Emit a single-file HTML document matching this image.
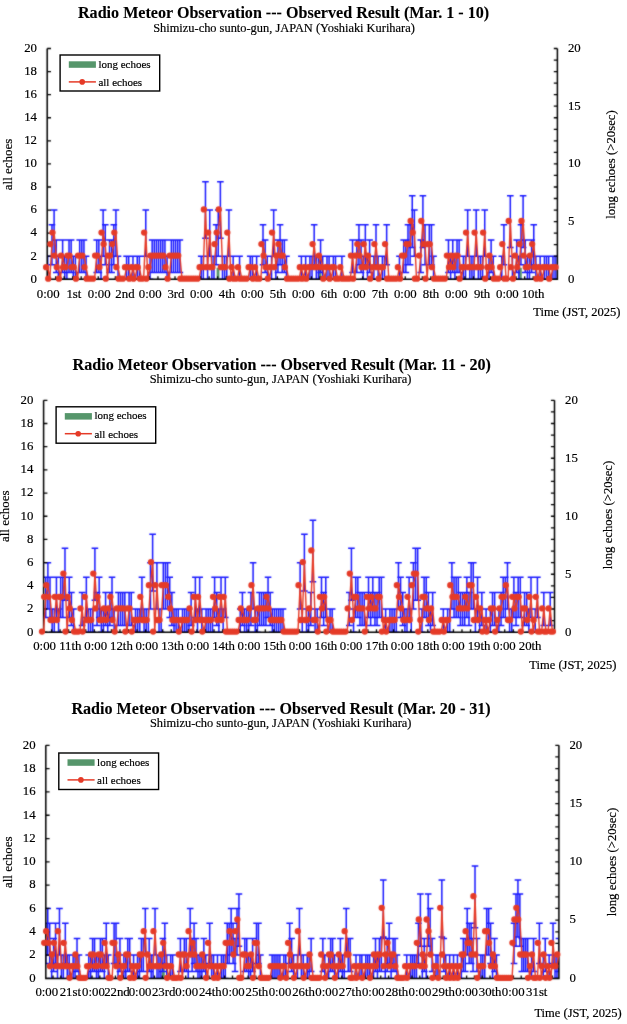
<!DOCTYPE html>
<html><head><meta charset="utf-8"><title>Radio Meteor Observation - March 2025</title>
<style>
html,body{margin:0;padding:0;background:#fff;}
svg{display:block;}
text{font-family:"Liberation Serif", "Times New Roman", serif;fill:#000;stroke:#000;stroke-width:0.18px;}
.ttl{stroke-width:0.1px;}
.ttl{font-size:16.1px;font-weight:bold;}
.sub{font-size:12.4px;}
.tk{font-size:12.8px;}
.tm{font-size:12.5px;}
.ar{font-size:12.75px;}
.ax{font-size:13px;}
.lg{font-size:11px;}
</style></head>
<body>
<svg width="627" height="1024" viewBox="0 0 627 1024">
<defs><filter id="sb" filterUnits="userSpaceOnUse" x="0" y="0" width="627" height="1024" color-interpolation-filters="sRGB"><feConvolveMatrix order="3" kernelMatrix="1 2 1 2 16 2 1 2 1" divisor="28" edgeMode="none"/></filter></defs>
<rect width="627" height="1024" fill="#fff"/>
<text x="283.6" y="17.6" class="ttl" text-anchor="middle">Radio Meteor Observation --- Observed Result (Mar. 1 - 10)</text>
<text x="284" y="31.7" class="sub" text-anchor="middle">Shimizu-cho sunto-gun, JAPAN (Yoshiaki Kurihara)</text>
<g filter="url(#sb)">
<rect x="216.6" y="267.76" width="2.8" height="11.54" fill="#56966B"/>
<rect x="318.6" y="267.76" width="2.8" height="11.54" fill="#56966B"/>
<rect x="519" y="267.76" width="2.8" height="11.54" fill="#56966B"/>
<clipPath id="cpc1"><rect x="47.2" y="43.5" width="510.2" height="235.8"/></clipPath>
<path d="M47.7 256.22V279.3M44.4 256.22h6.6M44.4 279.3h6.6M51.96 224.69V264.67M48.66 224.69h6.6M48.66 264.67h6.6M54.1 210.06V256.22M50.8 210.06h6.6M50.8 256.22h6.6M56.23 239.9V272.54M52.93 239.9h6.6M52.93 272.54h6.6M58.36 256.22V279.3M55.06 256.22h6.6M55.06 279.3h6.6M62.62 239.9V272.54M59.32 239.9h6.6M59.32 272.54h6.6M64.75 256.22V279.3M61.45 256.22h6.6M61.45 279.3h6.6M66.89 256.22V279.3M63.59 256.22h6.6M63.59 279.3h6.6M69.02 239.9V272.54M65.72 239.9h6.6M65.72 272.54h6.6M71.15 239.9V272.54M67.85 239.9h6.6M67.85 272.54h6.6M73.28 256.22V279.3M69.98 256.22h6.6M69.98 279.3h6.6M75.41 256.22V279.3M72.11 256.22h6.6M72.11 279.3h6.6M79.68 239.9V272.54M76.38 239.9h6.6M76.38 272.54h6.6M81.81 239.9V272.54M78.51 239.9h6.6M78.51 272.54h6.6M83.94 239.9V272.54M80.64 239.9h6.6M80.64 272.54h6.6M86.07 256.22V279.3M82.77 256.22h6.6M82.77 279.3h6.6M96.73 239.9V272.54M93.43 239.9h6.6M93.43 272.54h6.6M98.86 239.9V272.54M95.56 239.9h6.6M95.56 272.54h6.6M101 256.22V279.3M97.7 256.22h6.6M97.7 279.3h6.6M103.13 210.06V256.22M99.83 210.06h6.6M99.83 256.22h6.6M105.26 224.69V264.67M101.96 224.69h6.6M101.96 264.67h6.6M109.52 239.9V272.54M106.22 239.9h6.6M106.22 272.54h6.6M111.65 239.9V272.54M108.35 239.9h6.6M108.35 272.54h6.6M113.79 224.69V264.67M110.49 224.69h6.6M110.49 264.67h6.6M115.92 210.06V256.22M112.62 210.06h6.6M112.62 256.22h6.6M118.05 256.22V279.3M114.75 256.22h6.6M114.75 279.3h6.6M126.58 256.22V279.3M123.28 256.22h6.6M123.28 279.3h6.6M128.71 256.22V279.3M125.41 256.22h6.6M125.41 279.3h6.6M132.97 256.22V279.3M129.67 256.22h6.6M129.67 279.3h6.6M137.24 256.22V279.3M133.94 256.22h6.6M133.94 279.3h6.6M139.37 256.22V279.3M136.07 256.22h6.6M136.07 279.3h6.6M145.76 210.06V256.22M142.46 210.06h6.6M142.46 256.22h6.6M150.03 256.22V279.3M146.73 256.22h6.6M146.73 279.3h6.6M152.16 239.9V272.54M148.86 239.9h6.6M148.86 272.54h6.6M154.29 239.9V272.54M150.99 239.9h6.6M150.99 272.54h6.6M156.42 239.9V272.54M153.12 239.9h6.6M153.12 272.54h6.6M158.55 239.9V272.54M155.25 239.9h6.6M155.25 272.54h6.6M160.69 239.9V272.54M157.39 239.9h6.6M157.39 272.54h6.6M162.82 239.9V272.54M159.52 239.9h6.6M159.52 272.54h6.6M164.95 239.9V272.54M161.65 239.9h6.6M161.65 272.54h6.6M167.08 256.22V279.3M163.78 256.22h6.6M163.78 279.3h6.6M171.35 239.9V272.54M168.05 239.9h6.6M168.05 272.54h6.6M173.48 239.9V272.54M170.18 239.9h6.6M170.18 272.54h6.6M175.61 239.9V272.54M172.31 239.9h6.6M172.31 272.54h6.6M177.74 239.9V272.54M174.44 239.9h6.6M174.44 272.54h6.6M179.87 239.9V272.54M176.57 239.9h6.6M176.57 272.54h6.6M201.19 256.22V279.3M197.89 256.22h6.6M197.89 279.3h6.6M203.32 256.22V279.3M200.02 256.22h6.6M200.02 279.3h6.6M205.46 181.79V238.33M202.16 181.79h6.6M202.16 238.33h6.6M207.59 256.22V279.3M204.29 256.22h6.6M204.29 279.3h6.6M209.72 210.06V256.22M206.42 210.06h6.6M206.42 256.22h6.6M211.85 256.22V279.3M208.55 256.22h6.6M208.55 279.3h6.6M213.98 256.22V279.3M210.68 256.22h6.6M210.68 279.3h6.6M216.11 224.69V264.67M212.81 224.69h6.6M212.81 264.67h6.6M218.25 210.06V256.22M214.95 210.06h6.6M214.95 256.22h6.6M220.38 181.79V238.33M217.08 181.79h6.6M217.08 238.33h6.6M222.51 256.22V279.3M219.21 256.22h6.6M219.21 279.3h6.6M224.64 256.22V279.3M221.34 256.22h6.6M221.34 279.3h6.6M226.77 256.22V279.3M223.47 256.22h6.6M223.47 279.3h6.6M228.91 210.06V256.22M225.61 210.06h6.6M225.61 256.22h6.6M233.17 256.22V279.3M229.87 256.22h6.6M229.87 279.3h6.6M239.56 256.22V279.3M236.26 256.22h6.6M236.26 279.3h6.6M250.22 256.22V279.3M246.92 256.22h6.6M246.92 279.3h6.6M252.36 256.22V279.3M249.06 256.22h6.6M249.06 279.3h6.6M256.62 256.22V279.3M253.32 256.22h6.6M253.32 279.3h6.6M263.01 224.69V264.67M259.71 224.69h6.6M259.71 264.67h6.6M265.15 239.9V272.54M261.85 239.9h6.6M261.85 272.54h6.6M267.28 256.22V279.3M263.98 256.22h6.6M263.98 279.3h6.6M271.54 256.22V279.3M268.24 256.22h6.6M268.24 279.3h6.6M273.67 210.06V256.22M270.37 210.06h6.6M270.37 256.22h6.6M275.81 256.22V279.3M272.51 256.22h6.6M272.51 279.3h6.6M277.94 239.9V272.54M274.64 239.9h6.6M274.64 272.54h6.6M280.07 224.69V264.67M276.77 224.69h6.6M276.77 264.67h6.6M282.2 239.9V272.54M278.9 239.9h6.6M278.9 272.54h6.6M284.33 239.9V272.54M281.03 239.9h6.6M281.03 272.54h6.6M286.46 256.22V279.3M283.16 256.22h6.6M283.16 279.3h6.6M301.39 256.22V279.3M298.09 256.22h6.6M298.09 279.3h6.6M305.65 256.22V279.3M302.35 256.22h6.6M302.35 279.3h6.6M309.91 256.22V279.3M306.61 256.22h6.6M306.61 279.3h6.6M312.05 256.22V279.3M308.75 256.22h6.6M308.75 279.3h6.6M314.18 224.69V264.67M310.88 224.69h6.6M310.88 264.67h6.6M316.31 256.22V279.3M313.01 256.22h6.6M313.01 279.3h6.6M318.44 256.22V279.3M315.14 256.22h6.6M315.14 279.3h6.6M320.57 239.9V272.54M317.27 239.9h6.6M317.27 272.54h6.6M322.71 256.22V279.3M319.41 256.22h6.6M319.41 279.3h6.6M326.97 256.22V279.3M323.67 256.22h6.6M323.67 279.3h6.6M329.1 256.22V279.3M325.8 256.22h6.6M325.8 279.3h6.6M333.36 256.22V279.3M330.06 256.22h6.6M330.06 279.3h6.6M335.5 256.22V279.3M332.2 256.22h6.6M332.2 279.3h6.6M341.89 256.22V279.3M338.59 256.22h6.6M338.59 279.3h6.6M352.55 239.9V272.54M349.25 239.9h6.6M349.25 272.54h6.6M356.81 239.9V272.54M353.51 239.9h6.6M353.51 272.54h6.6M358.95 224.69V264.67M355.65 224.69h6.6M355.65 264.67h6.6M361.08 239.9V272.54M357.78 239.9h6.6M357.78 272.54h6.6M363.21 256.22V279.3M359.91 256.22h6.6M359.91 279.3h6.6M365.34 224.69V264.67M362.04 224.69h6.6M362.04 264.67h6.6M367.47 256.22V279.3M364.17 256.22h6.6M364.17 279.3h6.6M369.61 239.9V272.54M366.31 239.9h6.6M366.31 272.54h6.6M373.87 256.22V279.3M370.57 256.22h6.6M370.57 279.3h6.6M376 224.69V264.67M372.7 224.69h6.6M372.7 264.67h6.6M378.13 256.22V279.3M374.83 256.22h6.6M374.83 279.3h6.6M382.4 256.22V279.3M379.1 256.22h6.6M379.1 279.3h6.6M384.53 256.22V279.3M381.23 256.22h6.6M381.23 279.3h6.6M386.66 224.69V264.67M383.36 224.69h6.6M383.36 264.67h6.6M399.45 256.22V279.3M396.15 256.22h6.6M396.15 279.3h6.6M403.71 239.9V272.54M400.41 239.9h6.6M400.41 272.54h6.6M405.85 239.9V272.54M402.55 239.9h6.6M402.55 272.54h6.6M407.98 224.69V264.67M404.68 224.69h6.6M404.68 264.67h6.6M410.11 224.69V264.67M406.81 224.69h6.6M406.81 264.67h6.6M412.24 195.8V247.4M408.94 195.8h6.6M408.94 247.4h6.6M414.37 210.06V256.22M411.07 210.06h6.6M411.07 256.22h6.6M420.77 239.9V272.54M417.47 239.9h6.6M417.47 272.54h6.6M422.9 195.8V247.4M419.6 195.8h6.6M419.6 247.4h6.6M425.03 224.69V264.67M421.73 224.69h6.6M421.73 264.67h6.6M429.3 224.69V264.67M426 224.69h6.6M426 264.67h6.6M431.43 224.69V264.67M428.13 224.69h6.6M428.13 264.67h6.6M433.56 256.22V279.3M430.26 256.22h6.6M430.26 279.3h6.6M448.48 239.9V272.54M445.18 239.9h6.6M445.18 272.54h6.6M450.61 256.22V279.3M447.31 256.22h6.6M447.31 279.3h6.6M452.75 239.9V272.54M449.45 239.9h6.6M449.45 272.54h6.6M454.88 256.22V279.3M451.58 256.22h6.6M451.58 279.3h6.6M457.01 239.9V272.54M453.71 239.9h6.6M453.71 272.54h6.6M459.14 239.9V272.54M455.84 239.9h6.6M455.84 272.54h6.6M463.41 256.22V279.3M460.11 256.22h6.6M460.11 279.3h6.6M465.54 256.22V279.3M462.24 256.22h6.6M462.24 279.3h6.6M467.67 210.06V256.22M464.37 210.06h6.6M464.37 256.22h6.6M469.8 256.22V279.3M466.5 256.22h6.6M466.5 279.3h6.6M471.93 256.22V279.3M468.63 256.22h6.6M468.63 279.3h6.6M474.06 256.22V279.3M470.76 256.22h6.6M470.76 279.3h6.6M476.2 210.06V256.22M472.9 210.06h6.6M472.9 256.22h6.6M478.33 256.22V279.3M475.03 256.22h6.6M475.03 279.3h6.6M480.46 256.22V279.3M477.16 256.22h6.6M477.16 279.3h6.6M482.59 256.22V279.3M479.29 256.22h6.6M479.29 279.3h6.6M484.72 210.06V256.22M481.42 210.06h6.6M481.42 256.22h6.6M488.99 256.22V279.3M485.69 256.22h6.6M485.69 279.3h6.6M491.12 239.9V272.54M487.82 239.9h6.6M487.82 272.54h6.6M493.25 256.22V279.3M489.95 256.22h6.6M489.95 279.3h6.6M501.78 256.22V279.3M498.48 256.22h6.6M498.48 279.3h6.6M503.91 224.69V264.67M500.61 224.69h6.6M500.61 264.67h6.6M510.31 195.8V247.4M507.01 195.8h6.6M507.01 247.4h6.6M512.44 256.22V279.3M509.14 256.22h6.6M509.14 279.3h6.6M516.7 239.9V272.54M513.4 239.9h6.6M513.4 272.54h6.6M518.83 256.22V279.3M515.53 256.22h6.6M515.53 279.3h6.6M520.97 224.69V264.67M517.67 224.69h6.6M517.67 264.67h6.6M523.1 195.8V247.4M519.8 195.8h6.6M519.8 247.4h6.6M525.23 239.9V272.54M521.93 239.9h6.6M521.93 272.54h6.6M527.36 256.22V279.3M524.06 256.22h6.6M524.06 279.3h6.6M529.49 256.22V279.3M526.19 256.22h6.6M526.19 279.3h6.6M531.62 239.9V272.54M528.32 239.9h6.6M528.32 272.54h6.6M533.76 224.69V264.67M530.46 224.69h6.6M530.46 264.67h6.6M535.89 256.22V279.3M532.59 256.22h6.6M532.59 279.3h6.6M540.15 256.22V279.3M536.85 256.22h6.6M536.85 279.3h6.6M544.42 256.22V279.3M541.12 256.22h6.6M541.12 279.3h6.6M546.55 256.22V279.3M543.25 256.22h6.6M543.25 279.3h6.6M548.68 256.22V279.3M545.38 256.22h6.6M545.38 279.3h6.6M552.94 256.22V279.3M549.64 256.22h6.6M549.64 279.3h6.6M555.07 256.22V279.3M551.77 256.22h6.6M551.77 279.3h6.6M557.21 256.22V279.3M553.91 256.22h6.6M553.91 279.3h6.6" stroke="#1818FF" stroke-width="1.5" fill="none" clip-path="url(#cpc1)"/>
<path d="M47.2 48.5V279.3H557.4V48.5" stroke="#000" stroke-width="1.5" fill="none"/>
<path d="M47.2 279.3h3.8M47.2 256.22h3.8M47.2 233.14h3.8M47.2 210.06h3.8M47.2 186.98h3.8M47.2 163.9h3.8M47.2 140.82h3.8M47.2 117.74h3.8M47.2 94.66h3.8M47.2 71.58h3.8M47.2 48.5h3.8M557.4 279.3h-3.6M557.4 267.76h-3.6M557.4 256.22h-3.6M557.4 244.68h-3.6M557.4 233.14h-3.6M557.4 221.6h-3.6M557.4 210.06h-3.6M557.4 198.52h-3.6M557.4 186.98h-3.6M557.4 175.44h-3.6M557.4 163.9h-3.6M557.4 152.36h-3.6M557.4 140.82h-3.6M557.4 129.28h-3.6M557.4 117.74h-3.6M557.4 106.2h-3.6M557.4 94.66h-3.6M557.4 83.12h-3.6M557.4 71.58h-3.6M557.4 60.04h-3.6M557.4 48.5h-3.6M55.63 279.3v-3M64.15 279.3v-3M72.68 279.3v-3M81.21 279.3v-3M89.74 279.3v-3M98.26 279.3v-3M106.79 279.3v-3M115.32 279.3v-3M123.85 279.3v-3M132.37 279.3v-3M140.9 279.3v-3M149.43 279.3v-3M157.95 279.3v-3M166.48 279.3v-3M175.01 279.3v-3M183.54 279.3v-3M192.06 279.3v-3M200.59 279.3v-3M209.12 279.3v-3M217.65 279.3v-3M226.17 279.3v-3M234.7 279.3v-3M243.23 279.3v-3M251.76 279.3v-3M260.28 279.3v-3M268.81 279.3v-3M277.34 279.3v-3M285.86 279.3v-3M294.39 279.3v-3M302.92 279.3v-3M311.45 279.3v-3M319.97 279.3v-3M328.5 279.3v-3M337.03 279.3v-3M345.56 279.3v-3M354.08 279.3v-3M362.61 279.3v-3M371.14 279.3v-3M379.66 279.3v-3M388.19 279.3v-3M396.72 279.3v-3M405.25 279.3v-3M413.77 279.3v-3M422.3 279.3v-3M430.83 279.3v-3M439.36 279.3v-3M447.88 279.3v-3M456.41 279.3v-3M464.94 279.3v-3M473.46 279.3v-3M481.99 279.3v-3M490.52 279.3v-3M499.05 279.3v-3M507.57 279.3v-3M516.1 279.3v-3M524.63 279.3v-3M533.16 279.3v-3M541.68 279.3v-3M550.21 279.3v-3" stroke="#000" stroke-width="1.3" fill="none"/>
<polyline points="47.7,267.16 49.83,278.7 51.96,244.08 54.1,232.54 56.23,255.62 58.36,267.16 60.49,278.7 62.62,255.62 64.75,267.16 66.89,267.16 69.02,255.62 71.15,255.62 73.28,267.16 75.41,267.16 77.55,278.7 79.68,255.62 81.81,255.62 83.94,255.62 86.07,267.16 88.2,278.7 90.34,278.7 92.47,278.7 94.6,278.7 96.73,255.62 98.86,255.62 101,267.16 103.13,232.54 105.26,244.08 107.39,278.7 109.52,255.62 111.65,255.62 113.79,244.08 115.92,232.54 118.05,267.16 120.18,278.7 122.31,278.7 124.45,278.7 126.58,267.16 128.71,267.16 130.84,278.7 132.97,267.16 135.1,278.7 137.24,267.16 139.37,267.16 141.5,278.7 143.63,278.7 145.76,232.54 147.9,278.7 150.03,267.16 152.16,255.62 154.29,255.62 156.42,255.62 158.55,255.62 160.69,255.62 162.82,255.62 164.95,255.62 167.08,267.16 169.21,278.7 171.35,255.62 173.48,255.62 175.61,255.62 177.74,255.62 179.87,255.62 182,278.7 184.14,278.7 186.27,278.7 188.4,278.7 190.53,278.7 192.66,278.7 194.8,278.7 196.93,278.7 199.06,278.7 201.19,267.16 203.32,267.16 205.46,209.46 207.59,267.16 209.72,232.54 211.85,267.16 213.98,267.16 216.11,244.08 218.25,232.54 220.38,209.46 222.51,267.16 224.64,267.16 226.77,267.16 228.91,232.54 231.04,278.7 233.17,267.16 235.3,278.7 237.43,278.7 239.56,267.16 241.7,278.7 243.83,278.7 245.96,278.7 248.09,278.7 250.22,267.16 252.36,267.16 254.49,278.7 256.62,267.16 258.75,278.7 260.88,278.7 263.01,244.08 265.15,255.62 267.28,267.16 269.41,278.7 271.54,267.16 273.67,232.54 275.81,267.16 277.94,255.62 280.07,244.08 282.2,255.62 284.33,255.62 286.46,267.16 288.6,278.7 290.73,278.7 292.86,278.7 294.99,278.7 297.12,278.7 299.26,278.7 301.39,267.16 303.52,278.7 305.65,267.16 307.78,278.7 309.91,267.16 312.05,267.16 314.18,244.08 316.31,267.16 318.44,267.16 320.57,255.62 322.71,267.16 324.84,278.7 326.97,267.16 329.1,267.16 331.23,278.7 333.36,267.16 335.5,267.16 337.63,278.7 339.76,278.7 341.89,267.16 344.02,278.7 346.16,278.7 348.29,278.7 350.42,278.7 352.55,255.62 354.68,278.7 356.81,255.62 358.95,244.08 361.08,255.62 363.21,267.16 365.34,244.08 367.47,267.16 369.61,255.62 371.74,278.7 373.87,267.16 376,244.08 378.13,267.16 380.26,278.7 382.4,267.16 384.53,267.16 386.66,244.08 388.79,278.7 390.92,278.7 393.06,278.7 395.19,278.7 397.32,278.7 399.45,267.16 401.58,278.7 403.71,255.62 405.85,255.62 407.98,244.08 410.11,244.08 412.24,221 414.37,232.54 416.51,278.7 418.64,278.7 420.77,255.62 422.9,221 425.03,244.08 427.16,278.7 429.3,244.08 431.43,244.08 433.56,267.16 435.69,278.7 437.82,278.7 439.96,278.7 442.09,278.7 444.22,278.7 446.35,278.7 448.48,255.62 450.61,267.16 452.75,255.62 454.88,267.16 457.01,255.62 459.14,255.62 461.27,278.7 463.41,267.16 465.54,267.16 467.67,232.54 469.8,267.16 471.93,267.16 474.06,267.16 476.2,232.54 478.33,267.16 480.46,267.16 482.59,267.16 484.72,232.54 486.86,278.7 488.99,267.16 491.12,255.62 493.25,267.16 495.38,278.7 497.52,278.7 499.65,278.7 501.78,267.16 503.91,244.08 506.04,278.7 508.17,278.7 510.31,221 512.44,267.16 514.57,278.7 516.7,255.62 518.83,267.16 520.97,244.08 523.1,221 525.23,255.62 527.36,267.16 529.49,267.16 531.62,255.62 533.76,244.08 535.89,267.16 538.02,278.7 540.15,267.16 542.28,278.7 544.42,267.16 546.55,267.16 548.68,267.16 550.81,278.7 552.94,267.16 555.07,267.16 557.21,267.16" stroke="#E53A27" stroke-width="1.4" fill="none" stroke-linejoin="round"/>
<path d="M46.09 267.16h0.02M48.22 278.7h0.02M50.35 244.08h0.02M52.49 232.54h0.02M54.62 255.62h0.02M56.75 267.16h0.02M58.88 278.7h0.02M61.01 255.62h0.02M63.14 267.16h0.02M65.28 267.16h0.02M67.41 255.62h0.02M69.54 255.62h0.02M71.67 267.16h0.02M73.8 267.16h0.02M75.94 278.7h0.02M78.07 255.62h0.02M80.2 255.62h0.02M82.33 255.62h0.02M84.46 267.16h0.02M86.59 278.7h0.02M88.73 278.7h0.02M90.86 278.7h0.02M92.99 278.7h0.02M95.12 255.62h0.02M97.25 255.62h0.02M99.39 267.16h0.02M101.52 232.54h0.02M103.65 244.08h0.02M105.78 278.7h0.02M107.91 255.62h0.02M110.04 255.62h0.02M112.18 244.08h0.02M114.31 232.54h0.02M116.44 267.16h0.02M118.57 278.7h0.02M120.7 278.7h0.02M122.84 278.7h0.02M124.97 267.16h0.02M127.1 267.16h0.02M129.23 278.7h0.02M131.36 267.16h0.02M133.49 278.7h0.02M135.63 267.16h0.02M137.76 267.16h0.02M139.89 278.7h0.02M142.02 278.7h0.02M144.15 232.54h0.02M146.29 278.7h0.02M148.42 267.16h0.02M150.55 255.62h0.02M152.68 255.62h0.02M154.81 255.62h0.02M156.94 255.62h0.02M159.08 255.62h0.02M161.21 255.62h0.02M163.34 255.62h0.02M165.47 267.16h0.02M167.6 278.7h0.02M169.74 255.62h0.02M171.87 255.62h0.02M174 255.62h0.02M176.13 255.62h0.02M178.26 255.62h0.02M180.39 278.7h0.02M182.53 278.7h0.02M184.66 278.7h0.02M186.79 278.7h0.02M188.92 278.7h0.02M191.05 278.7h0.02M193.19 278.7h0.02M195.32 278.7h0.02M197.45 278.7h0.02M199.58 267.16h0.02M201.71 267.16h0.02M203.85 209.46h0.02M205.98 267.16h0.02M208.11 232.54h0.02M210.24 267.16h0.02M212.37 267.16h0.02M214.5 244.08h0.02M216.64 232.54h0.02M218.77 209.46h0.02M220.9 267.16h0.02M223.03 267.16h0.02M225.16 267.16h0.02M227.3 232.54h0.02M229.43 278.7h0.02M231.56 267.16h0.02M233.69 278.7h0.02M235.82 278.7h0.02M237.95 267.16h0.02M240.09 278.7h0.02M242.22 278.7h0.02M244.35 278.7h0.02M246.48 278.7h0.02M248.61 267.16h0.02M250.75 267.16h0.02M252.88 278.7h0.02M255.01 267.16h0.02M257.14 278.7h0.02M259.27 278.7h0.02M261.4 244.08h0.02M263.54 255.62h0.02M265.67 267.16h0.02M267.8 278.7h0.02M269.93 267.16h0.02M272.06 232.54h0.02M274.2 267.16h0.02M276.33 255.62h0.02M278.46 244.08h0.02M280.59 255.62h0.02M282.72 255.62h0.02M284.85 267.16h0.02M286.99 278.7h0.02M289.12 278.7h0.02M291.25 278.7h0.02M293.38 278.7h0.02M295.51 278.7h0.02M297.65 278.7h0.02M299.78 267.16h0.02M301.91 278.7h0.02M304.04 267.16h0.02M306.17 278.7h0.02M308.3 267.16h0.02M310.44 267.16h0.02M312.57 244.08h0.02M314.7 267.16h0.02M316.83 267.16h0.02M318.96 255.62h0.02M321.1 267.16h0.02M323.23 278.7h0.02M325.36 267.16h0.02M327.49 267.16h0.02M329.62 278.7h0.02M331.75 267.16h0.02M333.89 267.16h0.02M336.02 278.7h0.02M338.15 278.7h0.02M340.28 267.16h0.02M342.41 278.7h0.02M344.55 278.7h0.02M346.68 278.7h0.02M348.81 278.7h0.02M350.94 255.62h0.02M353.07 278.7h0.02M355.2 255.62h0.02M357.34 244.08h0.02M359.47 255.62h0.02M361.6 267.16h0.02M363.73 244.08h0.02M365.86 267.16h0.02M368 255.62h0.02M370.13 278.7h0.02M372.26 267.16h0.02M374.39 244.08h0.02M376.52 267.16h0.02M378.65 278.7h0.02M380.79 267.16h0.02M382.92 267.16h0.02M385.05 244.08h0.02M387.18 278.7h0.02M389.31 278.7h0.02M391.45 278.7h0.02M393.58 278.7h0.02M395.71 278.7h0.02M397.84 267.16h0.02M399.97 278.7h0.02M402.1 255.62h0.02M404.24 255.62h0.02M406.37 244.08h0.02M408.5 244.08h0.02M410.63 221h0.02M412.76 232.54h0.02M414.9 278.7h0.02M417.03 278.7h0.02M419.16 255.62h0.02M421.29 221h0.02M423.42 244.08h0.02M425.55 278.7h0.02M427.69 244.08h0.02M429.82 244.08h0.02M431.95 267.16h0.02M434.08 278.7h0.02M436.21 278.7h0.02M438.35 278.7h0.02M440.48 278.7h0.02M442.61 278.7h0.02M444.74 278.7h0.02M446.87 255.62h0.02M449 267.16h0.02M451.14 255.62h0.02M453.27 267.16h0.02M455.4 255.62h0.02M457.53 255.62h0.02M459.66 278.7h0.02M461.8 267.16h0.02M463.93 267.16h0.02M466.06 232.54h0.02M468.19 267.16h0.02M470.32 267.16h0.02M472.45 267.16h0.02M474.59 232.54h0.02M476.72 267.16h0.02M478.85 267.16h0.02M480.98 267.16h0.02M483.11 232.54h0.02M485.25 278.7h0.02M487.38 267.16h0.02M489.51 255.62h0.02M491.64 267.16h0.02M493.77 278.7h0.02M495.91 278.7h0.02M498.04 278.7h0.02M500.17 267.16h0.02M502.3 244.08h0.02M504.43 278.7h0.02M506.56 278.7h0.02M508.7 221h0.02M510.83 267.16h0.02M512.96 278.7h0.02M515.09 255.62h0.02M517.22 267.16h0.02M519.36 244.08h0.02M521.49 221h0.02M523.62 255.62h0.02M525.75 267.16h0.02M527.88 267.16h0.02M530.01 255.62h0.02M532.15 244.08h0.02M534.28 267.16h0.02M536.41 278.7h0.02M538.54 267.16h0.02M540.67 278.7h0.02M542.81 267.16h0.02M544.94 267.16h0.02M547.07 267.16h0.02M549.2 278.7h0.02M551.33 267.16h0.02M553.46 267.16h0.02M555.6 267.16h0.02" stroke="#E53A27" stroke-width="6.3" stroke-linecap="round" fill="none"/>
</g>
<text x="37" y="282.6" class="tk" text-anchor="end">0</text>
<text x="37" y="259.52" class="tk" text-anchor="end">2</text>
<text x="37" y="236.44" class="tk" text-anchor="end">4</text>
<text x="37" y="213.36" class="tk" text-anchor="end">6</text>
<text x="37" y="190.28" class="tk" text-anchor="end">8</text>
<text x="37" y="167.2" class="tk" text-anchor="end">10</text>
<text x="37" y="144.12" class="tk" text-anchor="end">12</text>
<text x="37" y="121.04" class="tk" text-anchor="end">14</text>
<text x="37" y="97.96" class="tk" text-anchor="end">16</text>
<text x="37" y="74.88" class="tk" text-anchor="end">18</text>
<text x="37" y="51.8" class="tk" text-anchor="end">20</text>
<text x="567.9" y="282.6" class="tk">0</text>
<text x="567.9" y="224.9" class="tk">5</text>
<text x="567.9" y="167.2" class="tk">10</text>
<text x="567.9" y="109.5" class="tk">15</text>
<text x="567.9" y="51.8" class="tk">20</text>
<text x="48.2" y="297.6" class="tk" text-anchor="middle">0:00</text>
<text x="73.91" y="297.6" class="tk" text-anchor="middle">1st</text>
<text x="99.22" y="297.6" class="tk" text-anchor="middle">0:00</text>
<text x="124.93" y="297.6" class="tk" text-anchor="middle">2nd</text>
<text x="150.24" y="297.6" class="tk" text-anchor="middle">0:00</text>
<text x="175.95" y="297.6" class="tk" text-anchor="middle">3rd</text>
<text x="201.26" y="297.6" class="tk" text-anchor="middle">0:00</text>
<text x="226.97" y="297.6" class="tk" text-anchor="middle">4th</text>
<text x="252.28" y="297.6" class="tk" text-anchor="middle">0:00</text>
<text x="277.99" y="297.6" class="tk" text-anchor="middle">5th</text>
<text x="303.3" y="297.6" class="tk" text-anchor="middle">0:00</text>
<text x="329.01" y="297.6" class="tk" text-anchor="middle">6th</text>
<text x="354.32" y="297.6" class="tk" text-anchor="middle">0:00</text>
<text x="380.03" y="297.6" class="tk" text-anchor="middle">7th</text>
<text x="405.34" y="297.6" class="tk" text-anchor="middle">0:00</text>
<text x="431.05" y="297.6" class="tk" text-anchor="middle">8th</text>
<text x="456.36" y="297.6" class="tk" text-anchor="middle">0:00</text>
<text x="482.07" y="297.6" class="tk" text-anchor="middle">9th</text>
<text x="507.38" y="297.6" class="tk" text-anchor="middle">0:00</text>
<text x="533.09" y="297.6" class="tk" text-anchor="middle">10th</text>
<text transform="translate(11.9 164.4) rotate(-90)" class="ax" text-anchor="middle">all echoes</text>
<text transform="translate(614.7 164.5) rotate(-90)" class="ar" text-anchor="middle">long echoes (&gt;20sec)</text>
<text x="620.4" y="315.9" class="tm" text-anchor="end">Time (JST, 2025)</text>
<rect x="60.1" y="55" width="99.6" height="36" fill="#fff" stroke="#000" stroke-width="1.4"/>
<rect x="68.8" y="61.3" width="27.1" height="6.5" fill="#56966B"/>
<text x="98.4" y="67.6" class="lg">long echoes</text>
<path d="M68.8 81.9h27.1" stroke="#E53A27" stroke-width="1.5"/>
<circle cx="82.2" cy="81.9" r="2.8" fill="#E53A27"/>
<text x="98.4" y="85.7" class="lg">all echoes</text>
<text x="281.8" y="369.7" class="ttl" text-anchor="middle">Radio Meteor Observation --- Observed Result (Mar. 11 - 20)</text>
<text x="280.5" y="382.6" class="sub" text-anchor="middle">Shimizu-cho sunto-gun, JAPAN (Yoshiaki Kurihara)</text>
<g filter="url(#sb)">
<clipPath id="cpc2"><rect x="43.6" y="395.3" width="510.9" height="236.9"/></clipPath>
<path d="M45.74 577.33V617.5M42.44 577.33h6.6M42.44 617.5h6.6M47.88 562.63V609.01M44.58 562.63h6.6M44.58 609.01h6.6M50.01 577.33V617.5M46.71 577.33h6.6M46.71 617.5h6.6M52.15 609.01V632.2M48.85 609.01h6.6M48.85 632.2h6.6M54.29 609.01V632.2M50.99 609.01h6.6M50.99 632.2h6.6M56.43 577.33V617.5M53.13 577.33h6.6M53.13 617.5h6.6M58.56 609.01V632.2M55.26 609.01h6.6M55.26 632.2h6.6M60.7 577.33V617.5M57.4 577.33h6.6M57.4 617.5h6.6M62.84 577.33V617.5M59.54 577.33h6.6M59.54 617.5h6.6M64.98 548.3V600.15M61.68 548.3h6.6M61.68 600.15h6.6M69.25 577.33V617.5M65.95 577.33h6.6M65.95 617.5h6.6M71.39 592.61V625.41M68.09 592.61h6.6M68.09 625.41h6.6M73.53 609.01V632.2M70.23 609.01h6.6M70.23 632.2h6.6M82.08 592.61V625.41M78.78 592.61h6.6M78.78 625.41h6.6M86.35 577.33V617.5M83.05 577.33h6.6M83.05 617.5h6.6M88.49 609.01V632.2M85.19 609.01h6.6M85.19 632.2h6.6M90.63 609.01V632.2M87.33 609.01h6.6M87.33 632.2h6.6M92.77 609.01V632.2M89.47 609.01h6.6M89.47 632.2h6.6M94.9 548.3V600.15M91.6 548.3h6.6M91.6 600.15h6.6M97.04 592.61V625.41M93.74 592.61h6.6M93.74 625.41h6.6M99.18 577.33V617.5M95.88 577.33h6.6M95.88 617.5h6.6M101.32 609.01V632.2M98.02 609.01h6.6M98.02 632.2h6.6M103.45 609.01V632.2M100.15 609.01h6.6M100.15 632.2h6.6M105.59 592.61V625.41M102.29 592.61h6.6M102.29 625.41h6.6M107.73 609.01V632.2M104.43 609.01h6.6M104.43 632.2h6.6M109.87 592.61V625.41M106.57 592.61h6.6M106.57 625.41h6.6M112.01 577.33V617.5M108.71 577.33h6.6M108.71 617.5h6.6M114.14 609.01V632.2M110.84 609.01h6.6M110.84 632.2h6.6M118.42 592.61V625.41M115.12 592.61h6.6M115.12 625.41h6.6M120.56 592.61V625.41M117.26 592.61h6.6M117.26 625.41h6.6M122.69 592.61V625.41M119.39 592.61h6.6M119.39 625.41h6.6M124.83 592.61V625.41M121.53 592.61h6.6M121.53 625.41h6.6M129.11 592.61V625.41M125.81 592.61h6.6M125.81 625.41h6.6M131.24 592.61V625.41M127.94 592.61h6.6M127.94 625.41h6.6M135.52 609.01V632.2M132.22 609.01h6.6M132.22 632.2h6.6M137.66 609.01V632.2M134.36 609.01h6.6M134.36 632.2h6.6M139.79 609.01V632.2M136.49 609.01h6.6M136.49 632.2h6.6M141.93 577.33V617.5M138.63 577.33h6.6M138.63 617.5h6.6M144.07 609.01V632.2M140.77 609.01h6.6M140.77 632.2h6.6M146.21 609.01V632.2M142.91 609.01h6.6M142.91 632.2h6.6M148.35 609.01V632.2M145.05 609.01h6.6M145.05 632.2h6.6M150.48 562.63V609.01M147.18 562.63h6.6M147.18 609.01h6.6M152.62 534.23V591.03M149.32 534.23h6.6M149.32 591.03h6.6M156.9 562.63V609.01M153.6 562.63h6.6M153.6 609.01h6.6M159.03 609.01V632.2M155.73 609.01h6.6M155.73 632.2h6.6M161.17 609.01V632.2M157.87 609.01h6.6M157.87 632.2h6.6M163.31 562.63V609.01M160.01 562.63h6.6M160.01 609.01h6.6M165.45 562.63V609.01M162.15 562.63h6.6M162.15 609.01h6.6M167.58 562.63V609.01M164.28 562.63h6.6M164.28 609.01h6.6M169.72 577.33V617.5M166.42 577.33h6.6M166.42 617.5h6.6M171.86 592.61V625.41M168.56 592.61h6.6M168.56 625.41h6.6M174 609.01V632.2M170.7 609.01h6.6M170.7 632.2h6.6M176.13 609.01V632.2M172.83 609.01h6.6M172.83 632.2h6.6M178.27 609.01V632.2M174.97 609.01h6.6M174.97 632.2h6.6M182.55 609.01V632.2M179.25 609.01h6.6M179.25 632.2h6.6M184.69 609.01V632.2M181.39 609.01h6.6M181.39 632.2h6.6M186.82 609.01V632.2M183.52 609.01h6.6M183.52 632.2h6.6M188.96 609.01V632.2M185.66 609.01h6.6M185.66 632.2h6.6M191.1 592.61V625.41M187.8 592.61h6.6M187.8 625.41h6.6M195.37 577.33V617.5M192.07 577.33h6.6M192.07 617.5h6.6M197.51 609.01V632.2M194.21 609.01h6.6M194.21 632.2h6.6M199.65 577.33V617.5M196.35 577.33h6.6M196.35 617.5h6.6M201.79 609.01V632.2M198.49 609.01h6.6M198.49 632.2h6.6M206.06 609.01V632.2M202.76 609.01h6.6M202.76 632.2h6.6M208.2 609.01V632.2M204.9 609.01h6.6M204.9 632.2h6.6M210.34 609.01V632.2M207.04 609.01h6.6M207.04 632.2h6.6M212.47 609.01V632.2M209.17 609.01h6.6M209.17 632.2h6.6M214.61 577.33V617.5M211.31 577.33h6.6M211.31 617.5h6.6M216.75 592.61V625.41M213.45 592.61h6.6M213.45 625.41h6.6M218.89 609.01V632.2M215.59 609.01h6.6M215.59 632.2h6.6M221.03 577.33V617.5M217.73 577.33h6.6M217.73 617.5h6.6M223.16 609.01V632.2M219.86 609.01h6.6M219.86 632.2h6.6M225.3 577.33V617.5M222 577.33h6.6M222 617.5h6.6M240.26 609.01V632.2M236.96 609.01h6.6M236.96 632.2h6.6M242.4 592.61V625.41M239.1 592.61h6.6M239.1 625.41h6.6M244.54 609.01V632.2M241.24 609.01h6.6M241.24 632.2h6.6M246.68 609.01V632.2M243.38 609.01h6.6M243.38 632.2h6.6M248.82 609.01V632.2M245.52 609.01h6.6M245.52 632.2h6.6M250.95 592.61V625.41M247.65 592.61h6.6M247.65 625.41h6.6M253.09 562.63V609.01M249.79 562.63h6.6M249.79 609.01h6.6M255.23 609.01V632.2M251.93 609.01h6.6M251.93 632.2h6.6M257.37 609.01V632.2M254.07 609.01h6.6M254.07 632.2h6.6M259.5 592.61V625.41M256.2 592.61h6.6M256.2 625.41h6.6M261.64 592.61V625.41M258.34 592.61h6.6M258.34 625.41h6.6M263.78 592.61V625.41M260.48 592.61h6.6M260.48 625.41h6.6M265.92 592.61V625.41M262.62 592.61h6.6M262.62 625.41h6.6M268.05 577.33V617.5M264.75 577.33h6.6M264.75 617.5h6.6M270.19 592.61V625.41M266.89 592.61h6.6M266.89 625.41h6.6M272.33 609.01V632.2M269.03 609.01h6.6M269.03 632.2h6.6M274.47 609.01V632.2M271.17 609.01h6.6M271.17 632.2h6.6M276.6 609.01V632.2M273.3 609.01h6.6M273.3 632.2h6.6M278.74 609.01V632.2M275.44 609.01h6.6M275.44 632.2h6.6M280.88 609.01V632.2M277.58 609.01h6.6M277.58 632.2h6.6M283.02 609.01V632.2M279.72 609.01h6.6M279.72 632.2h6.6M300.12 562.63V609.01M296.82 562.63h6.6M296.82 609.01h6.6M302.26 609.01V632.2M298.96 609.01h6.6M298.96 632.2h6.6M304.39 534.23V591.03M301.09 534.23h6.6M301.09 591.03h6.6M306.53 609.01V632.2M303.23 609.01h6.6M303.23 632.2h6.6M308.67 609.01V632.2M305.37 609.01h6.6M305.37 632.2h6.6M310.81 592.61V625.41M307.51 592.61h6.6M307.51 625.41h6.6M312.94 520.36V581.71M309.64 520.36h6.6M309.64 581.71h6.6M315.08 609.01V632.2M311.78 609.01h6.6M311.78 632.2h6.6M317.22 609.01V632.2M313.92 609.01h6.6M313.92 632.2h6.6M321.5 577.33V617.5M318.2 577.33h6.6M318.2 617.5h6.6M323.63 592.61V625.41M320.33 592.61h6.6M320.33 625.41h6.6M325.77 577.33V617.5M322.47 577.33h6.6M322.47 617.5h6.6M330.05 609.01V632.2M326.75 609.01h6.6M326.75 632.2h6.6M332.18 609.01V632.2M328.88 609.01h6.6M328.88 632.2h6.6M349.28 592.61V625.41M345.98 592.61h6.6M345.98 625.41h6.6M351.42 548.3V600.15M348.12 548.3h6.6M348.12 600.15h6.6M353.56 609.01V632.2M350.26 609.01h6.6M350.26 632.2h6.6M355.7 577.33V617.5M352.4 577.33h6.6M352.4 617.5h6.6M357.84 577.33V617.5M354.54 577.33h6.6M354.54 617.5h6.6M359.97 592.61V625.41M356.67 592.61h6.6M356.67 625.41h6.6M362.11 592.61V625.41M358.81 592.61h6.6M358.81 625.41h6.6M364.25 592.61V625.41M360.95 592.61h6.6M360.95 625.41h6.6M368.52 577.33V617.5M365.22 577.33h6.6M365.22 617.5h6.6M370.66 592.61V625.41M367.36 592.61h6.6M367.36 625.41h6.6M372.8 577.33V617.5M369.5 577.33h6.6M369.5 617.5h6.6M374.94 592.61V625.41M371.64 592.61h6.6M371.64 625.41h6.6M377.07 592.61V625.41M373.77 592.61h6.6M373.77 625.41h6.6M379.21 577.33V617.5M375.91 577.33h6.6M375.91 617.5h6.6M381.35 577.33V617.5M378.05 577.33h6.6M378.05 617.5h6.6M385.63 609.01V632.2M382.33 609.01h6.6M382.33 632.2h6.6M389.9 609.01V632.2M386.6 609.01h6.6M386.6 632.2h6.6M392.04 609.01V632.2M388.74 609.01h6.6M388.74 632.2h6.6M394.18 609.01V632.2M390.88 609.01h6.6M390.88 632.2h6.6M396.31 609.01V632.2M393.01 609.01h6.6M393.01 632.2h6.6M398.45 562.63V609.01M395.15 562.63h6.6M395.15 609.01h6.6M400.59 577.33V617.5M397.29 577.33h6.6M397.29 617.5h6.6M402.73 592.61V625.41M399.43 592.61h6.6M399.43 625.41h6.6M404.86 609.01V632.2M401.56 609.01h6.6M401.56 632.2h6.6M407 609.01V632.2M403.7 609.01h6.6M403.7 632.2h6.6M409.14 577.33V617.5M405.84 577.33h6.6M405.84 617.5h6.6M411.28 609.01V632.2M407.98 609.01h6.6M407.98 632.2h6.6M413.41 562.63V609.01M410.11 562.63h6.6M410.11 609.01h6.6M415.55 548.3V600.15M412.25 548.3h6.6M412.25 600.15h6.6M417.69 548.3V600.15M414.39 548.3h6.6M414.39 600.15h6.6M421.97 609.01V632.2M418.67 609.01h6.6M418.67 632.2h6.6M424.1 577.33V617.5M420.8 577.33h6.6M420.8 617.5h6.6M426.24 577.33V617.5M422.94 577.33h6.6M422.94 617.5h6.6M428.38 592.61V625.41M425.08 592.61h6.6M425.08 625.41h6.6M430.52 609.01V632.2M427.22 609.01h6.6M427.22 632.2h6.6M432.65 592.61V625.41M429.35 592.61h6.6M429.35 625.41h6.6M443.34 609.01V632.2M440.04 609.01h6.6M440.04 632.2h6.6M447.62 609.01V632.2M444.32 609.01h6.6M444.32 632.2h6.6M449.75 609.01V632.2M446.45 609.01h6.6M446.45 632.2h6.6M451.89 562.63V609.01M448.59 562.63h6.6M448.59 609.01h6.6M454.03 577.33V617.5M450.73 577.33h6.6M450.73 617.5h6.6M456.17 577.33V617.5M452.87 577.33h6.6M452.87 617.5h6.6M458.31 577.33V617.5M455.01 577.33h6.6M455.01 617.5h6.6M460.44 592.61V625.41M457.14 592.61h6.6M457.14 625.41h6.6M462.58 592.61V625.41M459.28 592.61h6.6M459.28 625.41h6.6M464.72 592.61V625.41M461.42 592.61h6.6M461.42 625.41h6.6M466.86 577.33V617.5M463.56 577.33h6.6M463.56 617.5h6.6M468.99 592.61V625.41M465.69 592.61h6.6M465.69 625.41h6.6M471.13 562.63V609.01M467.83 562.63h6.6M467.83 609.01h6.6M473.27 562.63V609.01M469.97 562.63h6.6M469.97 609.01h6.6M475.41 609.01V632.2M472.11 609.01h6.6M472.11 632.2h6.6M477.54 577.33V617.5M474.24 577.33h6.6M474.24 617.5h6.6M479.68 609.01V632.2M476.38 609.01h6.6M476.38 632.2h6.6M481.82 592.61V625.41M478.52 592.61h6.6M478.52 625.41h6.6M486.09 609.01V632.2M482.79 609.01h6.6M482.79 632.2h6.6M490.37 609.01V632.2M487.07 609.01h6.6M487.07 632.2h6.6M492.51 592.61V625.41M489.21 592.61h6.6M489.21 625.41h6.6M494.65 592.61V625.41M491.35 592.61h6.6M491.35 625.41h6.6M498.92 609.01V632.2M495.62 609.01h6.6M495.62 632.2h6.6M501.06 592.61V625.41M497.76 592.61h6.6M497.76 625.41h6.6M503.2 577.33V617.5M499.9 577.33h6.6M499.9 617.5h6.6M505.33 577.33V617.5M502.03 577.33h6.6M502.03 617.5h6.6M507.47 562.63V609.01M504.17 562.63h6.6M504.17 609.01h6.6M509.61 609.01V632.2M506.31 609.01h6.6M506.31 632.2h6.6M511.75 609.01V632.2M508.45 609.01h6.6M508.45 632.2h6.6M513.88 577.33V617.5M510.58 577.33h6.6M510.58 617.5h6.6M516.02 592.61V625.41M512.72 592.61h6.6M512.72 625.41h6.6M518.16 577.33V617.5M514.86 577.33h6.6M514.86 617.5h6.6M520.3 577.33V617.5M517 577.33h6.6M517 617.5h6.6M524.57 592.61V625.41M521.27 592.61h6.6M521.27 625.41h6.6M526.71 592.61V625.41M523.41 592.61h6.6M523.41 625.41h6.6M528.85 609.01V632.2M525.55 609.01h6.6M525.55 632.2h6.6M530.99 577.33V617.5M527.69 577.33h6.6M527.69 617.5h6.6M535.26 609.01V632.2M531.96 609.01h6.6M531.96 632.2h6.6M537.4 577.33V617.5M534.1 577.33h6.6M534.1 617.5h6.6M543.81 592.61V625.41M540.51 592.61h6.6M540.51 625.41h6.6M550.22 592.61V625.41M546.92 592.61h6.6M546.92 625.41h6.6" stroke="#1818FF" stroke-width="1.5" fill="none" clip-path="url(#cpc2)"/>
<path d="M43.6 400.3V632.2H554.5V400.3" stroke="#000" stroke-width="1.5" fill="none"/>
<path d="M43.6 632.2h3.8M43.6 609.01h3.8M43.6 585.82h3.8M43.6 562.63h3.8M43.6 539.44h3.8M43.6 516.25h3.8M43.6 493.06h3.8M43.6 469.87h3.8M43.6 446.68h3.8M43.6 423.49h3.8M43.6 400.3h3.8M554.5 632.2h-3.6M554.5 620.61h-3.6M554.5 609.01h-3.6M554.5 597.42h-3.6M554.5 585.82h-3.6M554.5 574.23h-3.6M554.5 562.63h-3.6M554.5 551.04h-3.6M554.5 539.44h-3.6M554.5 527.85h-3.6M554.5 516.25h-3.6M554.5 504.66h-3.6M554.5 493.06h-3.6M554.5 481.47h-3.6M554.5 469.87h-3.6M554.5 458.27h-3.6M554.5 446.68h-3.6M554.5 435.09h-3.6M554.5 423.49h-3.6M554.5 411.89h-3.6M554.5 400.3h-3.6M51.55 632.2v-3M60.1 632.2v-3M68.65 632.2v-3M77.2 632.2v-3M85.75 632.2v-3M94.3 632.2v-3M102.85 632.2v-3M111.41 632.2v-3M119.96 632.2v-3M128.51 632.2v-3M137.06 632.2v-3M145.61 632.2v-3M154.16 632.2v-3M162.71 632.2v-3M171.26 632.2v-3M179.81 632.2v-3M188.36 632.2v-3M196.91 632.2v-3M205.46 632.2v-3M214.01 632.2v-3M222.56 632.2v-3M231.11 632.2v-3M239.66 632.2v-3M248.22 632.2v-3M256.77 632.2v-3M265.32 632.2v-3M273.87 632.2v-3M282.42 632.2v-3M290.97 632.2v-3M299.52 632.2v-3M308.07 632.2v-3M316.62 632.2v-3M325.17 632.2v-3M333.72 632.2v-3M342.27 632.2v-3M350.82 632.2v-3M359.37 632.2v-3M367.92 632.2v-3M376.47 632.2v-3M385.03 632.2v-3M393.58 632.2v-3M402.13 632.2v-3M410.68 632.2v-3M419.23 632.2v-3M427.78 632.2v-3M436.33 632.2v-3M444.88 632.2v-3M453.43 632.2v-3M461.98 632.2v-3M470.53 632.2v-3M479.08 632.2v-3M487.63 632.2v-3M496.18 632.2v-3M504.73 632.2v-3M513.28 632.2v-3M521.84 632.2v-3M530.39 632.2v-3M538.94 632.2v-3M547.49 632.2v-3" stroke="#000" stroke-width="1.3" fill="none"/>
<polyline points="43.6,631.6 45.74,596.82 47.88,585.22 50.01,596.82 52.15,620 54.29,620 56.43,596.82 58.56,620 60.7,596.82 62.84,596.82 64.98,573.62 67.11,631.6 69.25,596.82 71.39,608.41 73.53,620 75.66,631.6 77.8,631.6 79.94,631.6 82.08,608.41 84.22,631.6 86.35,596.82 88.49,620 90.63,620 92.77,620 94.9,573.62 97.04,608.41 99.18,596.82 101.32,620 103.45,620 105.59,608.41 107.73,620 109.87,608.41 112.01,596.82 114.14,620 116.28,631.6 118.42,608.41 120.56,608.41 122.69,608.41 124.83,608.41 126.97,631.6 129.11,608.41 131.24,608.41 133.38,631.6 135.52,620 137.66,620 139.79,620 141.93,596.82 144.07,620 146.21,620 148.35,620 150.48,585.22 152.62,562.03 154.76,631.6 156.9,585.22 159.03,620 161.17,620 163.31,585.22 165.45,585.22 167.58,585.22 169.72,596.82 171.86,608.41 174,620 176.13,620 178.27,620 180.41,631.6 182.55,620 184.69,620 186.82,620 188.96,620 191.1,608.41 193.24,631.6 195.37,596.82 197.51,620 199.65,596.82 201.79,620 203.92,631.6 206.06,620 208.2,620 210.34,620 212.47,620 214.61,596.82 216.75,608.41 218.89,620 221.03,596.82 223.16,620 225.3,596.82 227.44,631.6 229.58,631.6 231.71,631.6 233.85,631.6 235.99,631.6 238.13,631.6 240.26,620 242.4,608.41 244.54,620 246.68,620 248.82,620 250.95,608.41 253.09,585.22 255.23,620 257.37,620 259.5,608.41 261.64,608.41 263.78,608.41 265.92,608.41 268.05,596.82 270.19,608.41 272.33,620 274.47,620 276.6,620 278.74,620 280.88,620 283.02,620 285.16,631.6 287.29,631.6 289.43,631.6 291.57,631.6 293.71,631.6 295.84,631.6 297.98,631.6 300.12,585.22 302.26,620 304.39,562.03 306.53,620 308.67,620 310.81,608.41 312.94,550.44 315.08,620 317.22,620 319.36,631.6 321.5,596.82 323.63,608.41 325.77,596.82 327.91,631.6 330.05,620 332.18,620 334.32,631.6 336.46,631.6 338.6,631.6 340.73,631.6 342.87,631.6 345.01,631.6 347.15,631.6 349.28,608.41 351.42,573.62 353.56,620 355.7,596.82 357.84,596.82 359.97,608.41 362.11,608.41 364.25,608.41 366.39,631.6 368.52,596.82 370.66,608.41 372.8,596.82 374.94,608.41 377.07,608.41 379.21,596.82 381.35,596.82 383.49,631.6 385.63,620 387.76,631.6 389.9,620 392.04,620 394.18,620 396.31,620 398.45,585.22 400.59,596.82 402.73,608.41 404.86,620 407,620 409.14,596.82 411.28,620 413.41,585.22 415.55,573.62 417.69,573.62 419.83,631.6 421.97,620 424.1,596.82 426.24,596.82 428.38,608.41 430.52,620 432.65,608.41 434.79,631.6 436.93,631.6 439.07,631.6 441.2,631.6 443.34,620 445.48,631.6 447.62,620 449.75,620 451.89,585.22 454.03,596.82 456.17,596.82 458.31,596.82 460.44,608.41 462.58,608.41 464.72,608.41 466.86,596.82 468.99,608.41 471.13,585.22 473.27,585.22 475.41,620 477.54,596.82 479.68,620 481.82,608.41 483.96,631.6 486.09,620 488.23,631.6 490.37,620 492.51,608.41 494.65,608.41 496.78,631.6 498.92,620 501.06,608.41 503.2,596.82 505.33,596.82 507.47,585.22 509.61,620 511.75,620 513.88,596.82 516.02,608.41 518.16,596.82 520.3,596.82 522.44,631.6 524.57,608.41 526.71,608.41 528.85,620 530.99,596.82 533.12,631.6 535.26,620 537.4,596.82 539.54,631.6 541.67,631.6 543.81,608.41 545.95,631.6 548.09,631.6 550.22,608.41 552.36,631.6 554.5,631.6" stroke="#E53A27" stroke-width="1.4" fill="none" stroke-linejoin="round"/>
<path d="M41.99 631.6h0.02M44.13 596.82h0.02M46.27 585.22h0.02M48.4 596.82h0.02M50.54 620h0.02M52.68 620h0.02M54.82 596.82h0.02M56.95 620h0.02M59.09 596.82h0.02M61.23 596.82h0.02M63.37 573.62h0.02M65.5 631.6h0.02M67.64 596.82h0.02M69.78 608.41h0.02M71.92 620h0.02M74.05 631.6h0.02M76.19 631.6h0.02M78.33 631.6h0.02M80.47 608.41h0.02M82.61 631.6h0.02M84.74 596.82h0.02M86.88 620h0.02M89.02 620h0.02M91.16 620h0.02M93.29 573.62h0.02M95.43 608.41h0.02M97.57 596.82h0.02M99.71 620h0.02M101.84 620h0.02M103.98 608.41h0.02M106.12 620h0.02M108.26 608.41h0.02M110.4 596.82h0.02M112.53 620h0.02M114.67 631.6h0.02M116.81 608.41h0.02M118.95 608.41h0.02M121.08 608.41h0.02M123.22 608.41h0.02M125.36 631.6h0.02M127.5 608.41h0.02M129.63 608.41h0.02M131.77 631.6h0.02M133.91 620h0.02M136.05 620h0.02M138.18 620h0.02M140.32 596.82h0.02M142.46 620h0.02M144.6 620h0.02M146.74 620h0.02M148.87 585.22h0.02M151.01 562.03h0.02M153.15 631.6h0.02M155.29 585.22h0.02M157.42 620h0.02M159.56 620h0.02M161.7 585.22h0.02M163.84 585.22h0.02M165.97 585.22h0.02M168.11 596.82h0.02M170.25 608.41h0.02M172.39 620h0.02M174.52 620h0.02M176.66 620h0.02M178.8 631.6h0.02M180.94 620h0.02M183.08 620h0.02M185.21 620h0.02M187.35 620h0.02M189.49 608.41h0.02M191.63 631.6h0.02M193.76 596.82h0.02M195.9 620h0.02M198.04 596.82h0.02M200.18 620h0.02M202.31 631.6h0.02M204.45 620h0.02M206.59 620h0.02M208.73 620h0.02M210.86 620h0.02M213 596.82h0.02M215.14 608.41h0.02M217.28 620h0.02M219.42 596.82h0.02M221.55 620h0.02M223.69 596.82h0.02M225.83 631.6h0.02M227.97 631.6h0.02M230.1 631.6h0.02M232.24 631.6h0.02M234.38 631.6h0.02M236.52 631.6h0.02M238.65 620h0.02M240.79 608.41h0.02M242.93 620h0.02M245.07 620h0.02M247.21 620h0.02M249.34 608.41h0.02M251.48 585.22h0.02M253.62 620h0.02M255.76 620h0.02M257.89 608.41h0.02M260.03 608.41h0.02M262.17 608.41h0.02M264.31 608.41h0.02M266.44 596.82h0.02M268.58 608.41h0.02M270.72 620h0.02M272.86 620h0.02M274.99 620h0.02M277.13 620h0.02M279.27 620h0.02M281.41 620h0.02M283.55 631.6h0.02M285.68 631.6h0.02M287.82 631.6h0.02M289.96 631.6h0.02M292.1 631.6h0.02M294.23 631.6h0.02M296.37 631.6h0.02M298.51 585.22h0.02M300.65 620h0.02M302.78 562.03h0.02M304.92 620h0.02M307.06 620h0.02M309.2 608.41h0.02M311.33 550.44h0.02M313.47 620h0.02M315.61 620h0.02M317.75 631.6h0.02M319.89 596.82h0.02M322.02 608.41h0.02M324.16 596.82h0.02M326.3 631.6h0.02M328.44 620h0.02M330.57 620h0.02M332.71 631.6h0.02M334.85 631.6h0.02M336.99 631.6h0.02M339.12 631.6h0.02M341.26 631.6h0.02M343.4 631.6h0.02M345.54 631.6h0.02M347.67 608.41h0.02M349.81 573.62h0.02M351.95 620h0.02M354.09 596.82h0.02M356.23 596.82h0.02M358.36 608.41h0.02M360.5 608.41h0.02M362.64 608.41h0.02M364.78 631.6h0.02M366.91 596.82h0.02M369.05 608.41h0.02M371.19 596.82h0.02M373.33 608.41h0.02M375.46 608.41h0.02M377.6 596.82h0.02M379.74 596.82h0.02M381.88 631.6h0.02M384.02 620h0.02M386.15 631.6h0.02M388.29 620h0.02M390.43 620h0.02M392.57 620h0.02M394.7 620h0.02M396.84 585.22h0.02M398.98 596.82h0.02M401.12 608.41h0.02M403.25 620h0.02M405.39 620h0.02M407.53 596.82h0.02M409.67 620h0.02M411.8 585.22h0.02M413.94 573.62h0.02M416.08 573.62h0.02M418.22 631.6h0.02M420.36 620h0.02M422.49 596.82h0.02M424.63 596.82h0.02M426.77 608.41h0.02M428.91 620h0.02M431.04 608.41h0.02M433.18 631.6h0.02M435.32 631.6h0.02M437.46 631.6h0.02M439.59 631.6h0.02M441.73 620h0.02M443.87 631.6h0.02M446.01 620h0.02M448.14 620h0.02M450.28 585.22h0.02M452.42 596.82h0.02M454.56 596.82h0.02M456.7 596.82h0.02M458.83 608.41h0.02M460.97 608.41h0.02M463.11 608.41h0.02M465.25 596.82h0.02M467.38 608.41h0.02M469.52 585.22h0.02M471.66 585.22h0.02M473.8 620h0.02M475.93 596.82h0.02M478.07 620h0.02M480.21 608.41h0.02M482.35 631.6h0.02M484.48 620h0.02M486.62 631.6h0.02M488.76 620h0.02M490.9 608.41h0.02M493.04 608.41h0.02M495.17 631.6h0.02M497.31 620h0.02M499.45 608.41h0.02M501.59 596.82h0.02M503.72 596.82h0.02M505.86 585.22h0.02M508 620h0.02M510.14 620h0.02M512.27 596.82h0.02M514.41 608.41h0.02M516.55 596.82h0.02M518.69 596.82h0.02M520.83 631.6h0.02M522.96 608.41h0.02M525.1 608.41h0.02M527.24 620h0.02M529.38 596.82h0.02M531.51 631.6h0.02M533.65 620h0.02M535.79 596.82h0.02M537.93 631.6h0.02M540.06 631.6h0.02M542.2 608.41h0.02M544.34 631.6h0.02M546.48 631.6h0.02M548.61 608.41h0.02M550.75 631.6h0.02M552.89 631.6h0.02" stroke="#E53A27" stroke-width="6.3" stroke-linecap="round" fill="none"/>
</g>
<text x="33.4" y="635.5" class="tk" text-anchor="end">0</text>
<text x="33.4" y="612.31" class="tk" text-anchor="end">2</text>
<text x="33.4" y="589.12" class="tk" text-anchor="end">4</text>
<text x="33.4" y="565.93" class="tk" text-anchor="end">6</text>
<text x="33.4" y="542.74" class="tk" text-anchor="end">8</text>
<text x="33.4" y="519.55" class="tk" text-anchor="end">10</text>
<text x="33.4" y="496.36" class="tk" text-anchor="end">12</text>
<text x="33.4" y="473.17" class="tk" text-anchor="end">14</text>
<text x="33.4" y="449.98" class="tk" text-anchor="end">16</text>
<text x="33.4" y="426.79" class="tk" text-anchor="end">18</text>
<text x="33.4" y="403.6" class="tk" text-anchor="end">20</text>
<text x="565" y="635.5" class="tk">0</text>
<text x="565" y="577.52" class="tk">5</text>
<text x="565" y="519.55" class="tk">10</text>
<text x="565" y="461.57" class="tk">15</text>
<text x="565" y="403.6" class="tk">20</text>
<text x="44.6" y="649.6" class="tk" text-anchor="middle">0:00</text>
<text x="70.34" y="649.6" class="tk" text-anchor="middle">11th</text>
<text x="95.69" y="649.6" class="tk" text-anchor="middle">0:00</text>
<text x="121.43" y="649.6" class="tk" text-anchor="middle">12th</text>
<text x="146.78" y="649.6" class="tk" text-anchor="middle">0:00</text>
<text x="172.52" y="649.6" class="tk" text-anchor="middle">13th</text>
<text x="197.87" y="649.6" class="tk" text-anchor="middle">0:00</text>
<text x="223.61" y="649.6" class="tk" text-anchor="middle">14th</text>
<text x="248.96" y="649.6" class="tk" text-anchor="middle">0:00</text>
<text x="274.7" y="649.6" class="tk" text-anchor="middle">15th</text>
<text x="300.05" y="649.6" class="tk" text-anchor="middle">0:00</text>
<text x="325.8" y="649.6" class="tk" text-anchor="middle">16th</text>
<text x="351.14" y="649.6" class="tk" text-anchor="middle">0:00</text>
<text x="376.88" y="649.6" class="tk" text-anchor="middle">17th</text>
<text x="402.23" y="649.6" class="tk" text-anchor="middle">0:00</text>
<text x="427.97" y="649.6" class="tk" text-anchor="middle">18th</text>
<text x="453.32" y="649.6" class="tk" text-anchor="middle">0:00</text>
<text x="479.06" y="649.6" class="tk" text-anchor="middle">19th</text>
<text x="504.41" y="649.6" class="tk" text-anchor="middle">0:00</text>
<text x="530.15" y="649.6" class="tk" text-anchor="middle">20th</text>
<text transform="translate(9.3 516.3) rotate(-90)" class="ax" text-anchor="middle">all echoes</text>
<text transform="translate(612.2 515) rotate(-90)" class="ar" text-anchor="middle">long echoes (&gt;20sec)</text>
<text x="616.5" y="669.3" class="tm" text-anchor="end">Time (JST, 2025)</text>
<rect x="56.1" y="406.8" width="99.6" height="36.4" fill="#fff" stroke="#000" stroke-width="1.4"/>
<rect x="64.8" y="413.1" width="27.1" height="6.5" fill="#56966B"/>
<text x="94.4" y="419.4" class="lg">long echoes</text>
<path d="M64.8 433.7h27.1" stroke="#E53A27" stroke-width="1.5"/>
<circle cx="78.2" cy="433.7" r="2.8" fill="#E53A27"/>
<text x="94.4" y="437.5" class="lg">all echoes</text>
<text x="281.1" y="714.1" class="ttl" text-anchor="middle">Radio Meteor Observation --- Observed Result (Mar. 20 - 31)</text>
<text x="280.7" y="727" class="sub" text-anchor="middle">Shimizu-cho sunto-gun, JAPAN (Yoshiaki Kurihara)</text>
<g filter="url(#sb)">
<rect x="162" y="966.75" width="2.8" height="11.66" fill="#56966B"/>
<clipPath id="cpc3"><rect x="45.8" y="740.3" width="513.1" height="238.1"/></clipPath>
<path d="M45.8 923.25V963.62M42.5 923.25h6.6M42.5 963.62h6.6M47.75 908.47V955.09M44.45 908.47h6.6M44.45 955.09h6.6M49.7 923.25V963.62M46.4 923.25h6.6M46.4 963.62h6.6M51.65 955.09V978.4M48.35 955.09h6.6M48.35 978.4h6.6M53.6 938.61V971.57M50.3 938.61h6.6M50.3 971.57h6.6M55.55 923.25V963.62M52.25 923.25h6.6M52.25 963.62h6.6M57.51 955.09V978.4M54.21 955.09h6.6M54.21 978.4h6.6M59.46 908.47V955.09M56.16 908.47h6.6M56.16 955.09h6.6M61.41 955.09V978.4M58.11 955.09h6.6M58.11 978.4h6.6M63.36 955.09V978.4M60.06 955.09h6.6M60.06 978.4h6.6M65.31 923.25V963.62M62.01 923.25h6.6M62.01 963.62h6.6M67.26 955.09V978.4M63.96 955.09h6.6M63.96 978.4h6.6M69.21 955.09V978.4M65.91 955.09h6.6M65.91 978.4h6.6M73.11 955.09V978.4M69.81 955.09h6.6M69.81 978.4h6.6M75.06 955.09V978.4M71.76 955.09h6.6M71.76 978.4h6.6M77.02 938.61V971.57M73.72 938.61h6.6M73.72 971.57h6.6M78.97 955.09V978.4M75.67 955.09h6.6M75.67 978.4h6.6M88.72 955.09V978.4M85.42 955.09h6.6M85.42 978.4h6.6M90.67 955.09V978.4M87.37 955.09h6.6M87.37 978.4h6.6M92.62 938.61V971.57M89.32 938.61h6.6M89.32 971.57h6.6M94.57 938.61V971.57M91.27 938.61h6.6M91.27 971.57h6.6M96.52 955.09V978.4M93.22 955.09h6.6M93.22 978.4h6.6M98.48 955.09V978.4M95.18 955.09h6.6M95.18 978.4h6.6M100.43 938.61V971.57M97.13 938.61h6.6M97.13 971.57h6.6M102.38 938.61V971.57M99.08 938.61h6.6M99.08 971.57h6.6M104.33 955.09V978.4M101.03 955.09h6.6M101.03 978.4h6.6M106.28 923.25V963.62M102.98 923.25h6.6M102.98 963.62h6.6M108.23 955.09V978.4M104.93 955.09h6.6M104.93 978.4h6.6M114.08 923.25V963.62M110.78 923.25h6.6M110.78 963.62h6.6M116.03 923.25V963.62M112.73 923.25h6.6M112.73 963.62h6.6M117.99 955.09V978.4M114.69 955.09h6.6M114.69 978.4h6.6M119.94 938.61V971.57M116.64 938.61h6.6M116.64 971.57h6.6M123.84 955.09V978.4M120.54 955.09h6.6M120.54 978.4h6.6M125.79 955.09V978.4M122.49 955.09h6.6M122.49 978.4h6.6M127.74 938.61V971.57M124.44 938.61h6.6M124.44 971.57h6.6M129.69 938.61V971.57M126.39 938.61h6.6M126.39 971.57h6.6M133.59 955.09V978.4M130.29 955.09h6.6M130.29 978.4h6.6M137.49 955.09V978.4M134.19 955.09h6.6M134.19 978.4h6.6M139.45 955.09V978.4M136.15 955.09h6.6M136.15 978.4h6.6M141.4 938.61V971.57M138.1 938.61h6.6M138.1 971.57h6.6M143.35 938.61V971.57M140.05 938.61h6.6M140.05 971.57h6.6M145.3 908.47V955.09M142 908.47h6.6M142 955.09h6.6M149.2 938.61V971.57M145.9 938.61h6.6M145.9 971.57h6.6M151.15 955.09V978.4M147.85 955.09h6.6M147.85 978.4h6.6M153.1 955.09V978.4M149.8 955.09h6.6M149.8 978.4h6.6M155.05 908.47V955.09M151.75 908.47h6.6M151.75 955.09h6.6M157 955.09V978.4M153.7 955.09h6.6M153.7 978.4h6.6M158.96 955.09V978.4M155.66 955.09h6.6M155.66 978.4h6.6M160.91 955.09V978.4M157.61 955.09h6.6M157.61 978.4h6.6M162.86 938.61V971.57M159.56 938.61h6.6M159.56 971.57h6.6M164.81 923.25V963.62M161.51 923.25h6.6M161.51 963.62h6.6M166.76 955.09V978.4M163.46 955.09h6.6M163.46 978.4h6.6M170.66 955.09V978.4M167.36 955.09h6.6M167.36 978.4h6.6M172.61 955.09V978.4M169.31 955.09h6.6M169.31 978.4h6.6M180.42 938.61V971.57M177.12 938.61h6.6M177.12 971.57h6.6M184.32 938.61V971.57M181.02 938.61h6.6M181.02 971.57h6.6M186.27 938.61V971.57M182.97 938.61h6.6M182.97 971.57h6.6M188.22 955.09V978.4M184.92 955.09h6.6M184.92 978.4h6.6M190.17 908.47V955.09M186.87 908.47h6.6M186.87 955.09h6.6M192.12 938.61V971.57M188.82 938.61h6.6M188.82 971.57h6.6M194.07 923.25V963.62M190.77 923.25h6.6M190.77 963.62h6.6M196.02 938.61V971.57M192.72 938.61h6.6M192.72 971.57h6.6M197.97 955.09V978.4M194.67 955.09h6.6M194.67 978.4h6.6M199.93 955.09V978.4M196.63 955.09h6.6M196.63 978.4h6.6M201.88 955.09V978.4M198.58 955.09h6.6M198.58 978.4h6.6M203.83 938.61V971.57M200.53 938.61h6.6M200.53 971.57h6.6M205.78 955.09V978.4M202.48 955.09h6.6M202.48 978.4h6.6M209.68 923.25V963.62M206.38 923.25h6.6M206.38 963.62h6.6M211.63 955.09V978.4M208.33 955.09h6.6M208.33 978.4h6.6M213.58 955.09V978.4M210.28 955.09h6.6M210.28 978.4h6.6M217.48 955.09V978.4M214.18 955.09h6.6M214.18 978.4h6.6M221.39 955.09V978.4M218.09 955.09h6.6M218.09 978.4h6.6M223.34 955.09V978.4M220.04 955.09h6.6M220.04 978.4h6.6M225.29 955.09V978.4M221.99 955.09h6.6M221.99 978.4h6.6M227.24 923.25V963.62M223.94 923.25h6.6M223.94 963.62h6.6M229.19 923.25V963.62M225.89 923.25h6.6M225.89 963.62h6.6M231.14 908.47V955.09M227.84 908.47h6.6M227.84 955.09h6.6M233.09 923.25V963.62M229.79 923.25h6.6M229.79 963.62h6.6M235.04 938.61V971.57M231.74 938.61h6.6M231.74 971.57h6.6M236.99 908.47V955.09M233.69 908.47h6.6M233.69 955.09h6.6M238.94 894.06V946.19M235.64 894.06h6.6M235.64 946.19h6.6M244.8 938.61V971.57M241.5 938.61h6.6M241.5 971.57h6.6M246.75 938.61V971.57M243.45 938.61h6.6M243.45 971.57h6.6M248.7 955.09V978.4M245.4 955.09h6.6M245.4 978.4h6.6M250.65 955.09V978.4M247.35 955.09h6.6M247.35 978.4h6.6M252.6 938.61V971.57M249.3 938.61h6.6M249.3 971.57h6.6M256.5 923.25V963.62M253.2 923.25h6.6M253.2 963.62h6.6M258.45 923.25V963.62M255.15 923.25h6.6M255.15 963.62h6.6M260.4 955.09V978.4M257.1 955.09h6.6M257.1 978.4h6.6M272.11 955.09V978.4M268.81 955.09h6.6M268.81 978.4h6.6M274.06 955.09V978.4M270.76 955.09h6.6M270.76 978.4h6.6M276.01 955.09V978.4M272.71 955.09h6.6M272.71 978.4h6.6M277.96 955.09V978.4M274.66 955.09h6.6M274.66 978.4h6.6M279.91 955.09V978.4M276.61 955.09h6.6M276.61 978.4h6.6M283.82 955.09V978.4M280.52 955.09h6.6M280.52 978.4h6.6M285.77 955.09V978.4M282.47 955.09h6.6M282.47 978.4h6.6M289.67 923.25V963.62M286.37 923.25h6.6M286.37 963.62h6.6M291.62 938.61V971.57M288.32 938.61h6.6M288.32 971.57h6.6M293.57 955.09V978.4M290.27 955.09h6.6M290.27 978.4h6.6M297.47 955.09V978.4M294.17 955.09h6.6M294.17 978.4h6.6M299.42 908.47V955.09M296.12 908.47h6.6M296.12 955.09h6.6M301.37 955.09V978.4M298.07 955.09h6.6M298.07 978.4h6.6M303.33 955.09V978.4M300.03 955.09h6.6M300.03 978.4h6.6M307.23 955.09V978.4M303.93 955.09h6.6M303.93 978.4h6.6M309.18 955.09V978.4M305.88 955.09h6.6M305.88 978.4h6.6M311.13 938.61V971.57M307.83 938.61h6.6M307.83 971.57h6.6M322.83 938.61V971.57M319.53 938.61h6.6M319.53 971.57h6.6M324.79 955.09V978.4M321.49 955.09h6.6M321.49 978.4h6.6M328.69 955.09V978.4M325.39 955.09h6.6M325.39 978.4h6.6M330.64 938.61V971.57M327.34 938.61h6.6M327.34 971.57h6.6M332.59 938.61V971.57M329.29 938.61h6.6M329.29 971.57h6.6M334.54 955.09V978.4M331.24 955.09h6.6M331.24 978.4h6.6M338.44 955.09V978.4M335.14 955.09h6.6M335.14 978.4h6.6M340.39 938.61V971.57M337.09 938.61h6.6M337.09 971.57h6.6M342.34 955.09V978.4M339.04 955.09h6.6M339.04 978.4h6.6M344.3 955.09V978.4M341 955.09h6.6M341 978.4h6.6M346.25 908.47V955.09M342.95 908.47h6.6M342.95 955.09h6.6M348.2 938.61V971.57M344.9 938.61h6.6M344.9 971.57h6.6M350.15 938.61V971.57M346.85 938.61h6.6M346.85 971.57h6.6M356 955.09V978.4M352.7 955.09h6.6M352.7 978.4h6.6M359.9 955.09V978.4M356.6 955.09h6.6M356.6 978.4h6.6M361.85 955.09V978.4M358.55 955.09h6.6M358.55 978.4h6.6M365.76 955.09V978.4M362.46 955.09h6.6M362.46 978.4h6.6M367.71 955.09V978.4M364.41 955.09h6.6M364.41 978.4h6.6M369.66 955.09V978.4M366.36 955.09h6.6M366.36 978.4h6.6M373.56 955.09V978.4M370.26 955.09h6.6M370.26 978.4h6.6M375.51 938.61V971.57M372.21 938.61h6.6M372.21 971.57h6.6M377.46 955.09V978.4M374.16 955.09h6.6M374.16 978.4h6.6M379.41 938.61V971.57M376.11 938.61h6.6M376.11 971.57h6.6M381.36 938.61V971.57M378.06 938.61h6.6M378.06 971.57h6.6M383.31 879.92V937.02M380.01 879.92h6.6M380.01 937.02h6.6M385.27 955.09V978.4M381.97 955.09h6.6M381.97 978.4h6.6M387.22 938.61V971.57M383.92 938.61h6.6M383.92 971.57h6.6M389.17 923.25V963.62M385.87 923.25h6.6M385.87 963.62h6.6M391.12 955.09V978.4M387.82 955.09h6.6M387.82 978.4h6.6M393.07 938.61V971.57M389.77 938.61h6.6M389.77 971.57h6.6M395.02 938.61V971.57M391.72 938.61h6.6M391.72 971.57h6.6M396.97 955.09V978.4M393.67 955.09h6.6M393.67 978.4h6.6M406.73 955.09V978.4M403.43 955.09h6.6M403.43 978.4h6.6M410.63 955.09V978.4M407.33 955.09h6.6M407.33 978.4h6.6M412.58 955.09V978.4M409.28 955.09h6.6M409.28 978.4h6.6M414.53 955.09V978.4M411.23 955.09h6.6M411.23 978.4h6.6M416.48 955.09V978.4M413.18 955.09h6.6M413.18 978.4h6.6M418.43 923.25V963.62M415.13 923.25h6.6M415.13 963.62h6.6M420.38 894.06V946.19M417.08 894.06h6.6M417.08 946.19h6.6M422.33 955.09V978.4M419.03 955.09h6.6M419.03 978.4h6.6M424.28 938.61V971.57M420.98 938.61h6.6M420.98 971.57h6.6M426.24 955.09V978.4M422.94 955.09h6.6M422.94 978.4h6.6M428.19 894.06V946.19M424.89 894.06h6.6M424.89 946.19h6.6M430.14 908.47V955.09M426.84 908.47h6.6M426.84 955.09h6.6M432.09 938.61V971.57M428.79 938.61h6.6M428.79 971.57h6.6M435.99 955.09V978.4M432.69 955.09h6.6M432.69 978.4h6.6M437.94 955.09V978.4M434.64 955.09h6.6M434.64 978.4h6.6M441.84 879.92V937.02M438.54 879.92h6.6M438.54 937.02h6.6M443.79 938.61V971.57M440.49 938.61h6.6M440.49 971.57h6.6M445.74 955.09V978.4M442.44 955.09h6.6M442.44 978.4h6.6M449.65 955.09V978.4M446.35 955.09h6.6M446.35 978.4h6.6M453.55 955.09V978.4M450.25 955.09h6.6M450.25 978.4h6.6M457.45 955.09V978.4M454.15 955.09h6.6M454.15 978.4h6.6M461.35 955.09V978.4M458.05 955.09h6.6M458.05 978.4h6.6M463.3 938.61V971.57M460 938.61h6.6M460 971.57h6.6M465.25 938.61V971.57M461.95 938.61h6.6M461.95 971.57h6.6M467.21 908.47V955.09M463.91 908.47h6.6M463.91 955.09h6.6M469.16 923.25V963.62M465.86 923.25h6.6M465.86 963.62h6.6M471.11 923.25V963.62M467.81 923.25h6.6M467.81 963.62h6.6M473.06 938.61V971.57M469.76 938.61h6.6M469.76 971.57h6.6M475.01 865.98V927.65M471.71 865.98h6.6M471.71 927.65h6.6M476.96 938.61V971.57M473.66 938.61h6.6M473.66 971.57h6.6M480.86 955.09V978.4M477.56 955.09h6.6M477.56 978.4h6.6M482.81 955.09V978.4M479.51 955.09h6.6M479.51 978.4h6.6M484.76 955.09V978.4M481.46 955.09h6.6M481.46 978.4h6.6M486.71 908.47V955.09M483.41 908.47h6.6M483.41 955.09h6.6M488.67 908.47V955.09M485.37 908.47h6.6M485.37 955.09h6.6M490.62 923.25V963.62M487.32 923.25h6.6M487.32 963.62h6.6M492.57 955.09V978.4M489.27 955.09h6.6M489.27 978.4h6.6M494.52 938.61V971.57M491.22 938.61h6.6M491.22 971.57h6.6M496.47 955.09V978.4M493.17 955.09h6.6M493.17 978.4h6.6M514.03 923.25V963.62M510.73 923.25h6.6M510.73 963.62h6.6M515.98 894.06V946.19M512.68 894.06h6.6M512.68 946.19h6.6M517.93 879.92V937.02M514.63 879.92h6.6M514.63 937.02h6.6M519.88 894.06V946.19M516.58 894.06h6.6M516.58 946.19h6.6M521.83 938.61V971.57M518.53 938.61h6.6M518.53 971.57h6.6M523.78 938.61V971.57M520.48 938.61h6.6M520.48 971.57h6.6M525.73 938.61V971.57M522.43 938.61h6.6M522.43 971.57h6.6M527.68 938.61V971.57M524.38 938.61h6.6M524.38 971.57h6.6M531.59 955.09V978.4M528.29 955.09h6.6M528.29 978.4h6.6M533.54 938.61V971.57M530.24 938.61h6.6M530.24 971.57h6.6M539.39 923.25V963.62M536.09 923.25h6.6M536.09 963.62h6.6M543.29 955.09V978.4M539.99 955.09h6.6M539.99 978.4h6.6M545.24 938.61V971.57M541.94 938.61h6.6M541.94 971.57h6.6M549.15 955.09V978.4M545.85 955.09h6.6M545.85 978.4h6.6M553.05 923.25V963.62M549.75 923.25h6.6M549.75 963.62h6.6M555 955.09V978.4M551.7 955.09h6.6M551.7 978.4h6.6M556.95 955.09V978.4M553.65 955.09h6.6M553.65 978.4h6.6M558.9 938.61V971.57M555.6 938.61h6.6M555.6 971.57h6.6" stroke="#1818FF" stroke-width="1.5" fill="none" clip-path="url(#cpc3)"/>
<path d="M45.8 745.3V978.4H558.9V745.3" stroke="#000" stroke-width="1.5" fill="none"/>
<path d="M45.8 978.4h3.8M45.8 955.09h3.8M45.8 931.78h3.8M45.8 908.47h3.8M45.8 885.16h3.8M45.8 861.85h3.8M45.8 838.54h3.8M45.8 815.23h3.8M45.8 791.92h3.8M45.8 768.61h3.8M45.8 745.3h3.8M558.9 978.4h-3.6M558.9 966.75h-3.6M558.9 955.09h-3.6M558.9 943.43h-3.6M558.9 931.78h-3.6M558.9 920.12h-3.6M558.9 908.47h-3.6M558.9 896.81h-3.6M558.9 885.16h-3.6M558.9 873.5h-3.6M558.9 861.85h-3.6M558.9 850.19h-3.6M558.9 838.54h-3.6M558.9 826.88h-3.6M558.9 815.23h-3.6M558.9 803.57h-3.6M558.9 791.92h-3.6M558.9 780.26h-3.6M558.9 768.61h-3.6M558.9 756.95h-3.6M558.9 745.3h-3.6M53 978.4v-3M60.81 978.4v-3M68.61 978.4v-3M76.42 978.4v-3M84.22 978.4v-3M92.02 978.4v-3M99.83 978.4v-3M107.63 978.4v-3M115.43 978.4v-3M123.24 978.4v-3M131.04 978.4v-3M138.85 978.4v-3M146.65 978.4v-3M154.45 978.4v-3M162.26 978.4v-3M170.06 978.4v-3M177.86 978.4v-3M185.67 978.4v-3M193.47 978.4v-3M201.28 978.4v-3M209.08 978.4v-3M216.88 978.4v-3M224.69 978.4v-3M232.49 978.4v-3M240.3 978.4v-3M248.1 978.4v-3M255.9 978.4v-3M263.71 978.4v-3M271.51 978.4v-3M279.31 978.4v-3M287.12 978.4v-3M294.92 978.4v-3M302.73 978.4v-3M310.53 978.4v-3M318.33 978.4v-3M326.14 978.4v-3M333.94 978.4v-3M341.74 978.4v-3M349.55 978.4v-3M357.35 978.4v-3M365.16 978.4v-3M372.96 978.4v-3M380.76 978.4v-3M388.57 978.4v-3M396.37 978.4v-3M404.17 978.4v-3M411.98 978.4v-3M419.78 978.4v-3M427.59 978.4v-3M435.39 978.4v-3M443.19 978.4v-3M451 978.4v-3M458.8 978.4v-3M466.61 978.4v-3M474.41 978.4v-3M482.21 978.4v-3M490.02 978.4v-3M497.82 978.4v-3M505.62 978.4v-3M513.43 978.4v-3M521.23 978.4v-3M529.04 978.4v-3M536.84 978.4v-3M544.64 978.4v-3M552.45 978.4v-3" stroke="#000" stroke-width="1.3" fill="none"/>
<polyline points="45.8,942.83 47.75,931.18 49.7,942.83 51.65,966.14 53.6,954.49 55.55,942.83 57.51,966.14 59.46,931.18 61.41,966.14 63.36,966.14 65.31,942.83 67.26,966.14 69.21,966.14 71.16,977.8 73.11,966.14 75.06,966.14 77.02,954.49 78.97,966.14 80.92,977.8 82.87,977.8 84.82,977.8 86.77,977.8 88.72,966.14 90.67,966.14 92.62,954.49 94.57,954.49 96.52,966.14 98.48,966.14 100.43,954.49 102.38,954.49 104.33,966.14 106.28,942.83 108.23,966.14 110.18,977.8 112.13,977.8 114.08,942.83 116.03,942.83 117.99,966.14 119.94,954.49 121.89,977.8 123.84,966.14 125.79,966.14 127.74,954.49 129.69,954.49 131.64,977.8 133.59,966.14 135.54,977.8 137.49,966.14 139.45,966.14 141.4,954.49 143.35,954.49 145.3,931.18 147.25,977.8 149.2,954.49 151.15,966.14 153.1,966.14 155.05,931.18 157,966.14 158.96,966.14 160.91,966.14 162.86,954.49 164.81,942.83 166.76,966.14 168.71,977.8 170.66,966.14 172.61,966.14 174.56,977.8 176.51,977.8 178.46,977.8 180.42,954.49 182.37,977.8 184.32,954.49 186.27,954.49 188.22,966.14 190.17,931.18 192.12,954.49 194.07,942.83 196.02,954.49 197.97,966.14 199.93,966.14 201.88,966.14 203.83,954.49 205.78,966.14 207.73,977.8 209.68,942.83 211.63,966.14 213.58,966.14 215.53,977.8 217.48,966.14 219.43,977.8 221.39,966.14 223.34,966.14 225.29,966.14 227.24,942.83 229.19,942.83 231.14,931.18 233.09,942.83 235.04,954.49 236.99,931.18 238.94,919.52 240.9,977.8 242.85,977.8 244.8,954.49 246.75,954.49 248.7,966.14 250.65,966.14 252.6,954.49 254.55,977.8 256.5,942.83 258.45,942.83 260.4,966.14 262.36,977.8 264.31,977.8 266.26,977.8 268.21,977.8 270.16,977.8 272.11,966.14 274.06,966.14 276.01,966.14 277.96,966.14 279.91,966.14 281.87,977.8 283.82,966.14 285.77,966.14 287.72,977.8 289.67,942.83 291.62,954.49 293.57,966.14 295.52,977.8 297.47,966.14 299.42,931.18 301.37,966.14 303.33,966.14 305.28,977.8 307.23,966.14 309.18,966.14 311.13,954.49 313.08,977.8 315.03,977.8 316.98,977.8 318.93,977.8 320.88,977.8 322.83,954.49 324.79,966.14 326.74,977.8 328.69,966.14 330.64,954.49 332.59,954.49 334.54,966.14 336.49,977.8 338.44,966.14 340.39,954.49 342.34,966.14 344.3,966.14 346.25,931.18 348.2,954.49 350.15,954.49 352.1,977.8 354.05,977.8 356,966.14 357.95,977.8 359.9,966.14 361.85,966.14 363.8,977.8 365.76,966.14 367.71,966.14 369.66,966.14 371.61,977.8 373.56,966.14 375.51,954.49 377.46,966.14 379.41,954.49 381.36,954.49 383.31,907.87 385.27,966.14 387.22,954.49 389.17,942.83 391.12,966.14 393.07,954.49 395.02,954.49 396.97,966.14 398.92,977.8 400.87,977.8 402.82,977.8 404.77,977.8 406.73,966.14 408.68,977.8 410.63,966.14 412.58,966.14 414.53,966.14 416.48,966.14 418.43,942.83 420.38,919.52 422.33,966.14 424.28,954.49 426.24,966.14 428.19,919.52 430.14,931.18 432.09,954.49 434.04,977.8 435.99,966.14 437.94,966.14 439.89,977.8 441.84,907.87 443.79,954.49 445.74,966.14 447.7,977.8 449.65,966.14 451.6,977.8 453.55,966.14 455.5,977.8 457.45,966.14 459.4,977.8 461.35,966.14 463.3,954.49 465.25,954.49 467.21,931.18 469.16,942.83 471.11,942.83 473.06,954.49 475.01,896.21 476.96,954.49 478.91,977.8 480.86,966.14 482.81,966.14 484.76,966.14 486.71,931.18 488.67,931.18 490.62,942.83 492.57,966.14 494.52,954.49 496.47,966.14 498.42,977.8 500.37,977.8 502.32,977.8 504.27,977.8 506.22,977.8 508.18,977.8 510.13,977.8 512.08,977.8 514.03,942.83 515.98,919.52 517.93,907.87 519.88,919.52 521.83,954.49 523.78,954.49 525.73,954.49 527.68,954.49 529.64,977.8 531.59,966.14 533.54,954.49 535.49,977.8 537.44,977.8 539.39,942.83 541.34,977.8 543.29,966.14 545.24,954.49 547.19,977.8 549.15,966.14 551.1,977.8 553.05,942.83 555,966.14 556.95,966.14 558.9,954.49" stroke="#E53A27" stroke-width="1.4" fill="none" stroke-linejoin="round"/>
<path d="M44.19 942.83h0.02M46.14 931.18h0.02M48.09 942.83h0.02M50.04 966.14h0.02M51.99 954.49h0.02M53.94 942.83h0.02M55.9 966.14h0.02M57.85 931.18h0.02M59.8 966.14h0.02M61.75 966.14h0.02M63.7 942.83h0.02M65.65 966.14h0.02M67.6 966.14h0.02M69.55 977.8h0.02M71.5 966.14h0.02M73.45 966.14h0.02M75.41 954.49h0.02M77.36 966.14h0.02M79.31 977.8h0.02M81.26 977.8h0.02M83.21 977.8h0.02M85.16 977.8h0.02M87.11 966.14h0.02M89.06 966.14h0.02M91.01 954.49h0.02M92.96 954.49h0.02M94.91 966.14h0.02M96.87 966.14h0.02M98.82 954.49h0.02M100.77 954.49h0.02M102.72 966.14h0.02M104.67 942.83h0.02M106.62 966.14h0.02M108.57 977.8h0.02M110.52 977.8h0.02M112.47 942.83h0.02M114.42 942.83h0.02M116.38 966.14h0.02M118.33 954.49h0.02M120.28 977.8h0.02M122.23 966.14h0.02M124.18 966.14h0.02M126.13 954.49h0.02M128.08 954.49h0.02M130.03 977.8h0.02M131.98 966.14h0.02M133.93 977.8h0.02M135.88 966.14h0.02M137.84 966.14h0.02M139.79 954.49h0.02M141.74 954.49h0.02M143.69 931.18h0.02M145.64 977.8h0.02M147.59 954.49h0.02M149.54 966.14h0.02M151.49 966.14h0.02M153.44 931.18h0.02M155.39 966.14h0.02M157.35 966.14h0.02M159.3 966.14h0.02M161.25 954.49h0.02M163.2 942.83h0.02M165.15 966.14h0.02M167.1 977.8h0.02M169.05 966.14h0.02M171 966.14h0.02M172.95 977.8h0.02M174.9 977.8h0.02M176.85 977.8h0.02M178.81 954.49h0.02M180.76 977.8h0.02M182.71 954.49h0.02M184.66 954.49h0.02M186.61 966.14h0.02M188.56 931.18h0.02M190.51 954.49h0.02M192.46 942.83h0.02M194.41 954.49h0.02M196.36 966.14h0.02M198.32 966.14h0.02M200.27 966.14h0.02M202.22 954.49h0.02M204.17 966.14h0.02M206.12 977.8h0.02M208.07 942.83h0.02M210.02 966.14h0.02M211.97 966.14h0.02M213.92 977.8h0.02M215.87 966.14h0.02M217.82 977.8h0.02M219.78 966.14h0.02M221.73 966.14h0.02M223.68 966.14h0.02M225.63 942.83h0.02M227.58 942.83h0.02M229.53 931.18h0.02M231.48 942.83h0.02M233.43 954.49h0.02M235.38 931.18h0.02M237.33 919.52h0.02M239.29 977.8h0.02M241.24 977.8h0.02M243.19 954.49h0.02M245.14 954.49h0.02M247.09 966.14h0.02M249.04 966.14h0.02M250.99 954.49h0.02M252.94 977.8h0.02M254.89 942.83h0.02M256.84 942.83h0.02M258.79 966.14h0.02M260.75 977.8h0.02M262.7 977.8h0.02M264.65 977.8h0.02M266.6 977.8h0.02M268.55 977.8h0.02M270.5 966.14h0.02M272.45 966.14h0.02M274.4 966.14h0.02M276.35 966.14h0.02M278.3 966.14h0.02M280.26 977.8h0.02M282.21 966.14h0.02M284.16 966.14h0.02M286.11 977.8h0.02M288.06 942.83h0.02M290.01 954.49h0.02M291.96 966.14h0.02M293.91 977.8h0.02M295.86 966.14h0.02M297.81 931.18h0.02M299.76 966.14h0.02M301.72 966.14h0.02M303.67 977.8h0.02M305.62 966.14h0.02M307.57 966.14h0.02M309.52 954.49h0.02M311.47 977.8h0.02M313.42 977.8h0.02M315.37 977.8h0.02M317.32 977.8h0.02M319.27 977.8h0.02M321.22 954.49h0.02M323.18 966.14h0.02M325.13 977.8h0.02M327.08 966.14h0.02M329.03 954.49h0.02M330.98 954.49h0.02M332.93 966.14h0.02M334.88 977.8h0.02M336.83 966.14h0.02M338.78 954.49h0.02M340.73 966.14h0.02M342.69 966.14h0.02M344.64 931.18h0.02M346.59 954.49h0.02M348.54 954.49h0.02M350.49 977.8h0.02M352.44 977.8h0.02M354.39 966.14h0.02M356.34 977.8h0.02M358.29 966.14h0.02M360.24 966.14h0.02M362.19 977.8h0.02M364.15 966.14h0.02M366.1 966.14h0.02M368.05 966.14h0.02M370 977.8h0.02M371.95 966.14h0.02M373.9 954.49h0.02M375.85 966.14h0.02M377.8 954.49h0.02M379.75 954.49h0.02M381.7 907.87h0.02M383.66 966.14h0.02M385.61 954.49h0.02M387.56 942.83h0.02M389.51 966.14h0.02M391.46 954.49h0.02M393.41 954.49h0.02M395.36 966.14h0.02M397.31 977.8h0.02M399.26 977.8h0.02M401.21 977.8h0.02M403.16 977.8h0.02M405.12 966.14h0.02M407.07 977.8h0.02M409.02 966.14h0.02M410.97 966.14h0.02M412.92 966.14h0.02M414.87 966.14h0.02M416.82 942.83h0.02M418.77 919.52h0.02M420.72 966.14h0.02M422.67 954.49h0.02M424.63 966.14h0.02M426.58 919.52h0.02M428.53 931.18h0.02M430.48 954.49h0.02M432.43 977.8h0.02M434.38 966.14h0.02M436.33 966.14h0.02M438.28 977.8h0.02M440.23 907.87h0.02M442.18 954.49h0.02M444.13 966.14h0.02M446.09 977.8h0.02M448.04 966.14h0.02M449.99 977.8h0.02M451.94 966.14h0.02M453.89 977.8h0.02M455.84 966.14h0.02M457.79 977.8h0.02M459.74 966.14h0.02M461.69 954.49h0.02M463.64 954.49h0.02M465.6 931.18h0.02M467.55 942.83h0.02M469.5 942.83h0.02M471.45 954.49h0.02M473.4 896.21h0.02M475.35 954.49h0.02M477.3 977.8h0.02M479.25 966.14h0.02M481.2 966.14h0.02M483.15 966.14h0.02M485.1 931.18h0.02M487.06 931.18h0.02M489.01 942.83h0.02M490.96 966.14h0.02M492.91 954.49h0.02M494.86 966.14h0.02M496.81 977.8h0.02M498.76 977.8h0.02M500.71 977.8h0.02M502.66 977.8h0.02M504.61 977.8h0.02M506.57 977.8h0.02M508.52 977.8h0.02M510.47 977.8h0.02M512.42 942.83h0.02M514.37 919.52h0.02M516.32 907.87h0.02M518.27 919.52h0.02M520.22 954.49h0.02M522.17 954.49h0.02M524.12 954.49h0.02M526.07 954.49h0.02M528.03 977.8h0.02M529.98 966.14h0.02M531.93 954.49h0.02M533.88 977.8h0.02M535.83 977.8h0.02M537.78 942.83h0.02M539.73 977.8h0.02M541.68 966.14h0.02M543.63 954.49h0.02M545.58 977.8h0.02M547.54 966.14h0.02M549.49 977.8h0.02M551.44 942.83h0.02M553.39 966.14h0.02M555.34 966.14h0.02M557.29 954.49h0.02" stroke="#E53A27" stroke-width="6.3" stroke-linecap="round" fill="none"/>
</g>
<text x="35.6" y="981.7" class="tk" text-anchor="end">0</text>
<text x="35.6" y="958.39" class="tk" text-anchor="end">2</text>
<text x="35.6" y="935.08" class="tk" text-anchor="end">4</text>
<text x="35.6" y="911.77" class="tk" text-anchor="end">6</text>
<text x="35.6" y="888.46" class="tk" text-anchor="end">8</text>
<text x="35.6" y="865.15" class="tk" text-anchor="end">10</text>
<text x="35.6" y="841.84" class="tk" text-anchor="end">12</text>
<text x="35.6" y="818.53" class="tk" text-anchor="end">14</text>
<text x="35.6" y="795.22" class="tk" text-anchor="end">16</text>
<text x="35.6" y="771.91" class="tk" text-anchor="end">18</text>
<text x="35.6" y="748.6" class="tk" text-anchor="end">20</text>
<text x="569.4" y="981.7" class="tk">0</text>
<text x="569.4" y="923.42" class="tk">5</text>
<text x="569.4" y="865.15" class="tk">10</text>
<text x="569.4" y="806.87" class="tk">15</text>
<text x="569.4" y="748.6" class="tk">20</text>
<text x="46.8" y="996.2" class="tk" text-anchor="middle">0:00</text>
<text x="70.32" y="996.2" class="tk" text-anchor="middle">21st</text>
<text x="93.45" y="996.2" class="tk" text-anchor="middle">0:00</text>
<text x="116.97" y="996.2" class="tk" text-anchor="middle">22nd</text>
<text x="140.09" y="996.2" class="tk" text-anchor="middle">0:00</text>
<text x="163.61" y="996.2" class="tk" text-anchor="middle">23rd</text>
<text x="186.74" y="996.2" class="tk" text-anchor="middle">0:00</text>
<text x="210.26" y="996.2" class="tk" text-anchor="middle">24th</text>
<text x="233.38" y="996.2" class="tk" text-anchor="middle">0:00</text>
<text x="256.9" y="996.2" class="tk" text-anchor="middle">25th</text>
<text x="280.03" y="996.2" class="tk" text-anchor="middle">0:00</text>
<text x="303.55" y="996.2" class="tk" text-anchor="middle">26th</text>
<text x="326.67" y="996.2" class="tk" text-anchor="middle">0:00</text>
<text x="350.2" y="996.2" class="tk" text-anchor="middle">27th</text>
<text x="373.32" y="996.2" class="tk" text-anchor="middle">0:00</text>
<text x="396.84" y="996.2" class="tk" text-anchor="middle">28th</text>
<text x="419.96" y="996.2" class="tk" text-anchor="middle">0:00</text>
<text x="443.49" y="996.2" class="tk" text-anchor="middle">29th</text>
<text x="466.61" y="996.2" class="tk" text-anchor="middle">0:00</text>
<text x="490.13" y="996.2" class="tk" text-anchor="middle">30th</text>
<text x="513.25" y="996.2" class="tk" text-anchor="middle">0:00</text>
<text x="536.78" y="996.2" class="tk" text-anchor="middle">31st</text>
<text transform="translate(11.9 862.2) rotate(-90)" class="ax" text-anchor="middle">all echoes</text>
<text transform="translate(616.4 862) rotate(-90)" class="ar" text-anchor="middle">long echoes (&gt;20sec)</text>
<text x="621.6" y="1016.8" class="tm" text-anchor="end">Time (JST, 2025)</text>
<rect x="58.8" y="753" width="99.8" height="36.5" fill="#fff" stroke="#000" stroke-width="1.4"/>
<rect x="67.5" y="759.3" width="27.1" height="6.5" fill="#56966B"/>
<text x="97.1" y="765.6" class="lg">long echoes</text>
<path d="M67.5 779.9h27.1" stroke="#E53A27" stroke-width="1.5"/>
<circle cx="80.9" cy="779.9" r="2.8" fill="#E53A27"/>
<text x="97.1" y="783.7" class="lg">all echoes</text>
</svg>
</body></html>
